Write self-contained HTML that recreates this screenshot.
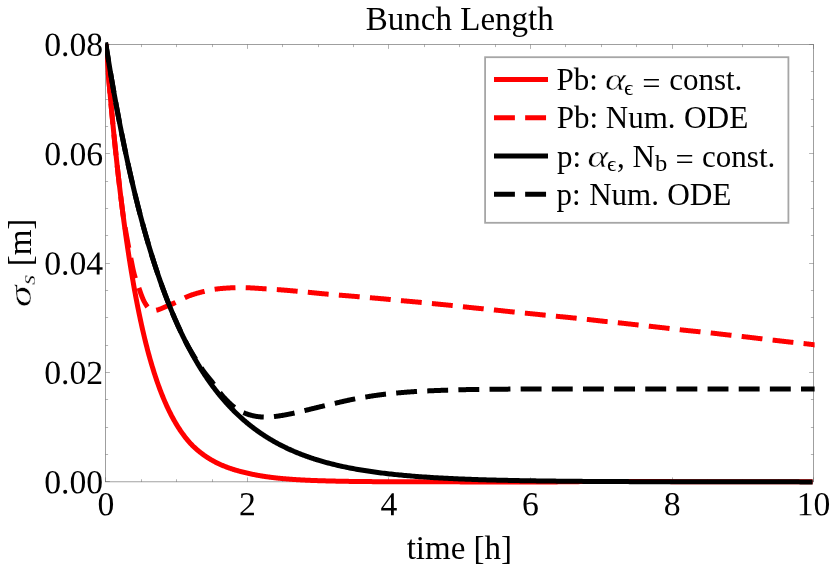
<!DOCTYPE html>
<html><head><meta charset="utf-8"><title>Bunch Length</title>
<style>
html,body{margin:0;padding:0;background:#fff;}
svg{display:block;will-change:transform;}
text{font-family:"Liberation Serif",serif;fill:#000;}
</style></head>
<body>
<svg width="830" height="567" viewBox="0 0 830 567">
<rect x="0" y="0" width="830" height="567" fill="#fff"/>
<defs><clipPath id="c"><rect x="105.2" y="41.8" width="707.40" height="443.10"/></clipPath><clipPath id="d"><rect x="105.2" y="41.8" width="709.40" height="443.10"/></clipPath></defs>
<g fill="none" stroke="#666" stroke-width="0.62">
<rect x="105.50" y="44.50" width="708.00" height="437.35"/>
<path d="M105.50 481.85 v-4.40 M105.50 44.50 v4.40 M141.50 481.85 v-2.60 M141.50 44.50 v2.60 M176.50 481.85 v-2.60 M176.50 44.50 v2.60 M212.50 481.85 v-2.60 M212.50 44.50 v2.60 M247.50 481.85 v-4.40 M247.50 44.50 v4.40 M282.50 481.85 v-2.60 M282.50 44.50 v2.60 M318.50 481.85 v-2.60 M318.50 44.50 v2.60 M353.50 481.85 v-2.60 M353.50 44.50 v2.60 M388.50 481.85 v-4.40 M388.50 44.50 v4.40 M424.50 481.85 v-2.60 M424.50 44.50 v2.60 M459.50 481.85 v-2.60 M459.50 44.50 v2.60 M495.50 481.85 v-2.60 M495.50 44.50 v2.60 M530.50 481.85 v-4.40 M530.50 44.50 v4.40 M565.50 481.85 v-2.60 M565.50 44.50 v2.60 M601.50 481.85 v-2.60 M601.50 44.50 v2.60 M636.50 481.85 v-2.60 M636.50 44.50 v2.60 M672.50 481.85 v-4.40 M672.50 44.50 v4.40 M707.50 481.85 v-2.60 M707.50 44.50 v2.60 M742.50 481.85 v-2.60 M742.50 44.50 v2.60 M778.50 481.85 v-2.60 M778.50 44.50 v2.60 M813.50 481.85 v-4.40 M813.50 44.50 v4.40 M105.50 481.50 h4.40 M813.50 481.50 h-4.40 M105.50 454.50 h2.60 M813.50 454.50 h-2.60 M105.50 427.50 h2.60 M813.50 427.50 h-2.60 M105.50 399.50 h2.60 M813.50 399.50 h-2.60 M105.50 372.50 h4.40 M813.50 372.50 h-4.40 M105.50 345.50 h2.60 M813.50 345.50 h-2.60 M105.50 317.50 h2.60 M813.50 317.50 h-2.60 M105.50 290.50 h2.60 M813.50 290.50 h-2.60 M105.50 263.50 h4.40 M813.50 263.50 h-4.40 M105.50 235.50 h2.60 M813.50 235.50 h-2.60 M105.50 208.50 h2.60 M813.50 208.50 h-2.60 M105.50 181.50 h2.60 M813.50 181.50 h-2.60 M105.50 153.50 h4.40 M813.50 153.50 h-4.40 M105.50 126.50 h2.60 M813.50 126.50 h-2.60 M105.50 99.50 h2.60 M813.50 99.50 h-2.60 M105.50 71.50 h2.60 M813.50 71.50 h-2.60 M105.50 44.50 h4.40 M813.50 44.50 h-4.40" stroke-width="0.5"/>
</g>
<g fill="none" stroke-width="5.0" stroke-linejoin="round">
<path clip-path="url(#c)" stroke="#ff0000" d="M105.84 43.66 L105.90 44.46 L106.43 51.10 L106.96 57.64 L107.50 64.09 L108.03 70.43 L108.56 76.68 L109.09 82.83 L109.62 88.89 L110.16 94.86 L110.69 100.73 L111.22 106.52 L111.75 112.22 L112.29 117.84 L112.82 123.36 L113.35 128.81 L113.88 134.17 L114.41 139.45 L114.95 144.65 L115.48 149.77 L116.01 154.81 L116.54 159.78 L117.07 164.67 L117.61 169.49 L118.14 174.23 L118.67 178.90 L119.20 183.50 L119.73 188.04 L120.27 192.50 L120.80 196.89 L121.33 201.22 L121.86 205.48 L122.40 209.68 L122.93 213.81 L123.46 217.88 L123.99 221.89 L124.52 225.84 L125.06 229.73 L125.59 233.56 L126.12 237.33 L126.65 241.04 L127.18 244.70 L127.72 248.30 L128.25 251.85 L128.78 255.34 L129.31 258.78 L129.84 262.17 L130.38 265.51 L130.91 268.79 L131.44 272.03 L131.97 275.21 L132.51 278.35 L133.04 281.44 L133.57 284.49 L134.10 287.48 L134.63 290.44 L135.17 293.34 L135.70 296.21 L136.23 299.03 L136.76 301.80 L137.29 304.54 L137.83 307.23 L138.36 309.88 L138.89 312.49 L139.42 315.07 L139.95 317.60 L140.49 320.10 L141.02 322.55 L141.55 324.97 L142.08 327.35 L142.62 329.70 L143.15 332.01 L143.68 334.29 L144.21 336.53 L144.74 338.74 L145.28 340.91 L145.81 343.05 L146.34 345.16 L146.87 347.24 L147.40 349.28 L147.94 351.29 L148.47 353.28 L149.00 355.23 L149.53 357.15 L150.06 359.05 L150.60 360.91 L151.13 362.75 L151.66 364.56 L152.19 366.34 L152.73 368.10 L153.26 369.82 L153.79 371.53 L154.32 373.20 L154.85 374.85 L155.39 376.48 L155.92 378.08 L156.45 379.66 L156.98 381.21 L157.51 382.74 L158.05 384.24 L158.58 385.73 L159.11 387.19 L159.64 388.62 L160.17 390.04 L160.71 391.44 L161.24 392.81 L161.77 394.16 L162.30 395.49 L162.84 396.81 L163.37 398.10 L163.90 399.37 L164.43 400.62 L164.96 401.86 L165.50 403.07 L166.03 404.27 L166.56 405.45 L167.09 406.61 L167.62 407.75 L168.16 408.88 L168.69 409.99 L169.22 411.08 L169.75 412.15 L170.28 413.21 L170.82 414.26 L171.35 415.28 L171.88 416.30 L172.41 417.29 L172.95 418.27 L173.48 419.24 L174.01 420.19 L174.54 421.13 L175.07 422.05 L175.61 422.96 L176.14 423.85 L176.67 424.74 L177.20 425.60 L177.73 426.46 L178.27 427.30 L178.80 428.13 L179.33 428.95 L179.86 429.75 L180.39 430.54 L180.93 431.32 L181.46 432.09 L181.99 432.85 L182.52 433.59 L183.06 434.32 L183.59 435.05 L184.12 435.76 L184.65 436.46 L185.18 437.15 L185.72 437.83 L186.25 438.50 L186.78 439.16 L187.31 439.81 L187.84 440.44 L188.38 441.07 L188.91 441.69 L189.44 442.30 L189.97 442.91 L190.50 443.50 L191.04 444.07 L191.57 444.61 L192.10 445.14 L192.63 445.66 L193.17 446.18 L193.70 446.69 L194.23 447.19 L194.76 447.68 L195.29 448.17 L195.83 448.65 L196.36 449.12 L196.89 449.59 L197.42 450.04 L197.95 450.49 L198.49 450.94 L199.02 451.38 L199.55 451.81 L200.08 452.23 L200.61 452.65 L201.15 453.06 L201.68 453.47 L202.21 453.87 L202.74 454.26 L203.28 454.65 L203.81 455.03 L204.34 455.41 L204.87 455.78 L205.40 456.14 L205.94 456.50 L206.47 456.86 L207.00 457.21 L207.53 457.55 L208.06 457.89 L208.60 458.23 L209.13 458.56 L209.66 458.88 L210.19 459.20 L210.72 459.52 L211.26 459.83 L211.79 460.13 L212.32 460.43 L212.85 460.73 L213.39 461.02 L213.92 461.31 L214.45 461.60 L214.98 461.88 L215.51 462.15 L216.05 462.42 L216.58 462.69 L217.11 462.96 L217.64 463.22 L218.17 463.47 L218.71 463.73 L219.24 463.98 L219.77 464.22 L220.30 464.46 L220.83 464.70 L221.37 464.94 L221.90 465.17 L222.43 465.40 L222.96 465.62 L223.50 465.84 L224.03 466.06 L224.56 466.28 L225.09 466.49 L225.62 466.70 L226.16 466.90 L226.69 467.11 L227.22 467.31 L227.75 467.50 L228.28 467.70 L228.82 467.89 L229.35 468.08 L229.88 468.27 L230.41 468.45 L230.94 468.63 L231.48 468.81 L232.01 468.99 L232.54 469.16 L233.07 469.33 L233.61 469.50 L234.14 469.66 L234.67 469.83 L235.20 469.99 L235.73 470.15 L236.27 470.31 L236.80 470.46 L237.33 470.61 L237.86 470.76 L238.39 470.91 L238.93 471.06 L239.46 471.20 L239.99 471.34 L240.52 471.48 L241.05 471.62 L241.59 471.76 L242.12 471.89 L242.65 472.02 L243.18 472.15 L243.72 472.28 L244.25 472.41 L244.78 472.53 L245.31 472.66 L245.84 472.78 L246.38 472.90 L246.91 473.02 L247.44 473.13 L247.97 473.26 L248.50 473.39 L249.04 473.51 L249.57 473.63 L250.10 473.75 L250.63 473.87 L251.16 473.99 L251.70 474.11 L252.23 474.22 L252.76 474.33 L253.29 474.44 L253.83 474.55 L254.36 474.66 L254.89 474.76 L255.42 474.87 L255.95 474.97 L256.49 475.07 L257.02 475.17 L257.55 475.27 L258.08 475.37 L258.61 475.46 L259.15 475.56 L259.68 475.65 L260.21 475.74 L260.74 475.83 L261.27 475.92 L261.81 476.01 L262.34 476.09 L262.87 476.18 L263.40 476.26 L263.94 476.34 L264.47 476.42 L265.00 476.50 L265.53 476.58 L266.06 476.66 L266.60 476.74 L267.13 476.81 L267.66 476.89 L268.19 476.96 L268.72 477.03 L269.26 477.10 L269.79 477.17 L270.32 477.24 L270.85 477.31 L271.38 477.38 L271.92 477.44 L272.45 477.51 L272.98 477.57 L273.51 477.63 L274.05 477.70 L274.58 477.76 L275.11 477.82 L275.64 477.88 L276.17 477.94 L276.71 477.99 L277.24 478.05 L277.77 478.11 L278.30 478.16 L278.83 478.22 L279.37 478.27 L279.90 478.32 L280.43 478.38 L280.96 478.43 L281.49 478.48 L282.03 478.53 L282.56 478.58 L283.09 478.63 L283.62 478.67 L284.16 478.72 L284.69 478.77 L285.22 478.81 L285.75 478.86 L286.28 478.90 L286.82 478.95 L287.35 478.99 L287.88 479.03 L288.41 479.07 L288.94 479.11 L289.48 479.16 L290.01 479.20 L290.54 479.23 L291.07 479.27 L291.60 479.31 L292.14 479.35 L292.67 479.39 L293.20 479.42 L293.73 479.46 L294.27 479.50 L294.80 479.53 L295.33 479.57 L295.86 479.60 L296.39 479.63 L296.93 479.67 L297.46 479.70 L297.99 479.73 L298.52 479.76 L299.05 479.79 L299.59 479.82 L300.12 479.85 L300.65 479.88 L301.18 479.91 L301.71 479.94 L302.25 479.97 L302.78 480.00 L303.31 480.03 L303.84 480.05 L304.38 480.08 L304.91 480.11 L305.44 480.13 L305.97 480.16 L306.50 480.19 L307.04 480.21 L307.57 480.23 L308.10 480.26 L308.63 480.28 L309.16 480.31 L309.70 480.33 L310.23 480.35 L310.76 480.38 L311.29 480.40 L311.82 480.42 L312.36 480.44 L312.89 480.46 L313.42 480.48 L313.95 480.50 L314.49 480.52 L315.02 480.54 L315.55 480.56 L316.08 480.58 L316.61 480.60 L317.15 480.62 L317.68 480.64 L318.21 480.66 L319.87 480.71 L321.52 480.77 L323.18 480.82 L324.84 480.87 L326.49 480.91 L328.15 480.96 L329.81 481.00 L331.46 481.04 L333.12 481.08 L334.78 481.11 L336.44 481.15 L338.09 481.18 L339.75 481.22 L341.41 481.25 L343.06 481.28 L344.72 481.30 L346.38 481.33 L348.03 481.36 L349.69 481.38 L351.35 481.40 L353.00 481.43 L354.66 481.45 L356.32 481.47 L357.97 481.49 L359.63 481.50 L361.29 481.52 L362.94 481.54 L364.60 481.56 L366.26 481.57 L367.91 481.59 L369.57 481.60 L371.23 481.61 L372.89 481.63 L374.54 481.64 L376.20 481.65 L377.86 481.66 L379.51 481.67 L381.17 481.68 L382.83 481.69 L384.48 481.70 L386.14 481.71 L387.80 481.72 L389.45 481.73 L391.11 481.73 L392.77 481.74 L394.42 481.75 L396.08 481.76 L397.74 481.76 L399.39 481.77 L401.05 481.77 L402.71 481.78 L404.36 481.79 L406.02 481.79 L407.68 481.80 L409.34 481.80 L410.99 481.80 L412.65 481.81 L414.31 481.81 L415.96 481.82 L417.62 481.82 L419.28 481.82 L420.93 481.83 L422.59 481.83 L424.25 481.83 L425.90 481.84 L427.56 481.84 L429.22 481.84 L430.87 481.84 L432.53 481.85 L434.19 481.85 L435.84 481.85 L437.50 481.85 L439.16 481.86 L440.81 481.86 L442.47 481.86 L444.13 481.86 L445.79 481.86 L447.44 481.87 L449.10 481.87 L450.76 481.87 L452.41 481.87 L454.07 481.87 L455.73 481.87 L457.38 481.87 L459.04 481.87 L460.70 481.88 L462.35 481.88 L464.01 481.88 L465.67 481.88 L467.32 481.88 L468.98 481.88 L470.64 481.88 L472.29 481.88 L473.95 481.88 L475.61 481.88 L477.26 481.88 L478.92 481.89 L480.58 481.89 L482.24 481.89 L483.89 481.89 L485.55 481.89 L487.21 481.89 L488.86 481.89 L490.52 481.89 L492.18 481.89 L493.83 481.89 L495.49 481.89 L497.15 481.89 L498.80 481.89 L500.46 481.89 L502.12 481.89 L503.77 481.89 L505.43 481.89 L507.09 481.89 L508.74 481.89 L510.40 481.89 L512.06 481.89 L513.72 481.89 L515.37 481.89 L517.03 481.89 L518.69 481.90 L520.34 481.90 L522.00 481.90 L523.66 481.90 L525.31 481.90 L526.97 481.90 L528.63 481.90 L530.28 481.90 L531.94 481.90 L533.60 481.90 L535.25 481.90 L536.91 481.90 L538.57 481.90 L540.22 481.90 L541.88 481.90 L543.54 481.90 L545.19 481.90 L546.85 481.90 L548.51 481.90 L550.17 481.90 L551.82 481.90 L553.48 481.90 L555.14 481.89 L556.79 481.88 L558.45 481.87 L560.11 481.86 L561.76 481.84 L563.42 481.83 L565.08 481.81 L566.73 481.79 L568.39 481.77 L570.05 481.75 L571.70 481.73 L573.36 481.71 L575.02 481.68 L576.67 481.66 L578.33 481.64 L579.99 481.62 L581.64 481.60 L583.30 481.58 L584.96 481.56 L586.62 481.55 L588.27 481.53 L589.93 481.51 L591.59 481.50 L593.24 481.49 L594.90 481.47 L596.56 481.46 L598.21 481.45 L599.87 481.45 L601.53 481.44 L603.18 481.43 L604.84 481.43 L606.50 481.43 L608.15 481.43 L609.81 481.43 L611.47 481.43 L613.12 481.44 L614.78 481.44 L616.44 481.45 L618.09 481.46 L619.75 481.47 L621.41 481.47 L623.07 481.48 L624.72 481.49 L626.38 481.49 L628.04 481.50 L629.69 481.51 L631.35 481.51 L633.01 481.52 L634.66 481.53 L636.32 481.53 L637.98 481.54 L639.63 481.54 L641.29 481.55 L642.95 481.55 L644.60 481.56 L646.26 481.56 L647.92 481.57 L649.57 481.57 L651.23 481.58 L652.89 481.58 L654.55 481.59 L656.20 481.59 L657.86 481.60 L659.52 481.60 L661.17 481.60 L662.83 481.61 L664.49 481.61 L666.14 481.62 L667.80 481.62 L669.46 481.62 L671.11 481.63 L672.77 481.63 L674.43 481.63 L676.08 481.64 L677.74 481.64 L679.40 481.64 L681.05 481.65 L682.71 481.65 L684.37 481.65 L686.02 481.66 L687.68 481.66 L689.34 481.66 L691.00 481.66 L692.65 481.67 L694.31 481.67 L695.97 481.67 L697.62 481.68 L699.28 481.68 L700.94 481.68 L702.59 481.68 L704.25 481.68 L705.91 481.69 L707.56 481.69 L709.22 481.69 L710.88 481.69 L712.53 481.70 L714.19 481.70 L715.85 481.70 L717.50 481.70 L719.16 481.70 L720.82 481.70 L722.47 481.71 L724.13 481.71 L725.79 481.71 L727.45 481.71 L729.10 481.71 L730.76 481.71 L732.42 481.72 L734.07 481.72 L735.73 481.72 L737.39 481.72 L739.04 481.72 L740.70 481.72 L742.36 481.72 L744.01 481.73 L745.67 481.73 L747.33 481.73 L748.98 481.73 L750.64 481.73 L752.30 481.73 L753.95 481.73 L755.61 481.73 L757.27 481.73 L758.92 481.74 L760.58 481.74 L762.24 481.74 L763.90 481.74 L765.55 481.74 L767.21 481.74 L768.87 481.74 L770.52 481.74 L772.18 481.74 L773.84 481.74 L775.49 481.75 L777.15 481.75 L778.81 481.75 L780.46 481.75 L782.12 481.75 L783.78 481.75 L785.43 481.75 L787.09 481.75 L788.75 481.75 L790.40 481.75 L792.06 481.75 L793.72 481.75 L795.37 481.75 L797.03 481.75 L798.69 481.75 L800.35 481.76 L802.00 481.76 L803.66 481.76 L805.32 481.76 L806.97 481.76 L808.63 481.76 L810.29 481.76 L811.94 481.76 L813.60 481.76"/>
<path clip-path="url(#d)" stroke="#ff0000" stroke-dasharray="20.9 10.25" stroke-dashoffset="3.00" d="M105.90 44.46 L105.95 45.09 L106.00 45.71 L106.05 46.34 L106.10 46.96 L106.15 47.59 L106.20 48.22 L106.25 48.84 L106.30 49.47 L106.35 50.09 L106.40 50.72 L106.45 51.35 L106.50 51.97 L106.55 52.60 L106.60 53.22 L106.66 53.85 L106.71 54.48 L106.76 55.10 L106.81 55.73 L106.86 56.35 L106.91 56.98 L106.96 57.60 L107.01 58.23 L107.06 58.86 L107.12 59.48 L107.17 60.11 L107.22 60.73 L107.27 61.36 L107.32 61.99 L107.37 62.61 L107.43 63.24 L107.48 63.86 L107.53 64.49 L107.58 65.12 L107.64 65.74 L107.69 66.37 L107.74 66.99 L107.79 67.62 L107.85 68.24 L107.90 68.87 L107.95 69.50 L108.00 70.12 L108.06 70.75 L108.11 71.37 L108.16 72.00 L108.22 72.62 L108.27 73.25 L108.32 73.88 L108.37 74.50 L108.43 75.13 L108.48 75.75 L108.54 76.38 L108.59 77.00 L108.64 77.63 L108.70 78.26 L108.75 78.88 L108.80 79.51 L108.86 80.13 L108.91 80.76 L108.97 81.38 L109.02 82.01 L109.08 82.64 L109.13 83.26 L109.18 83.89 L109.24 84.51 L109.29 85.14 L109.35 85.76 L109.40 86.39 L109.46 87.02 L109.51 87.64 L109.57 88.27 L109.62 88.89 L109.68 89.52 L109.74 90.14 L109.79 90.77 L109.85 91.39 L109.90 92.02 L109.96 92.64 L110.01 93.27 L110.07 93.90 L110.13 94.52 L110.18 95.15 L110.24 95.77 L110.29 96.40 L110.35 97.02 L110.41 97.65 L110.46 98.27 L110.52 98.90 L110.58 99.52 L110.64 100.15 L110.69 100.78 L110.75 101.40 L110.81 102.03 L110.86 102.65 L110.92 103.28 L110.98 103.90 L111.04 104.53 L111.09 105.15 L111.15 105.78 L111.21 106.40 L111.27 107.03 L111.33 107.65 L111.38 108.28 L111.44 108.91 L111.50 109.53 L111.56 110.16 L111.62 110.78 L111.68 111.41 L111.73 112.03 L111.79 112.66 L111.85 113.28 L111.91 113.91 L111.97 114.53 L112.03 115.16 L112.09 115.78 L112.15 116.41 L112.21 117.03 L112.27 117.66 L112.33 118.28 L112.39 118.91 L112.45 119.53 L112.51 120.16 L112.57 120.78 L112.63 121.41 L112.69 122.03 L112.75 122.66 L112.81 123.28 L112.87 123.91 L112.93 124.53 L112.99 125.16 L113.05 125.78 L113.11 126.41 L113.18 127.03 L113.24 127.66 L113.30 128.28 L113.36 128.91 L113.42 129.53 L113.48 130.16 L113.55 130.78 L113.61 131.41 L113.67 132.03 L113.73 132.66 L113.79 133.28 L113.86 133.91 L113.92 134.53 L113.98 135.16 L114.04 135.78 L114.11 136.41 L114.17 137.03 L114.23 137.66 L114.30 138.28 L114.36 138.91 L114.42 139.53 L114.49 140.16 L114.55 140.78 L114.61 141.41 L114.68 142.03 L114.74 142.66 L114.81 143.28 L114.87 143.91 L114.93 144.53 L115.00 145.15 L115.06 145.78 L115.13 146.40 L115.19 147.03 L115.26 147.65 L115.32 148.28 L115.39 148.90 L115.45 149.53 L115.52 150.15 L115.58 150.78 L115.65 151.40 L115.71 152.03 L115.78 152.65 L115.85 153.27 L115.91 153.90 L115.98 154.52 L116.04 155.15 L116.11 155.77 L116.18 156.40 L116.24 157.02 L116.31 157.65 L116.38 158.27 L116.44 158.89 L116.51 159.52 L116.58 160.14 L116.65 160.77 L116.71 161.39 L116.78 162.02 L116.85 162.64 L116.92 163.27 L116.98 163.89 L117.05 164.51 L117.12 165.14 L117.19 165.76 L117.26 166.39 L117.33 167.01 L117.40 167.64 L117.47 168.26 L117.53 168.88 L117.60 169.51 L117.67 170.13 L117.74 170.76 L117.81 171.38 L117.88 172.00 L117.95 172.63 L118.02 173.25 L118.09 173.88 L118.17 174.50 L118.24 175.12 L118.31 175.75 L118.38 176.37 L118.45 177.00 L118.52 177.62 L118.59 178.24 L118.67 178.87 L118.74 179.49 L118.81 180.12 L118.88 180.74 L118.96 181.36 L119.03 181.99 L119.10 182.61 L119.18 183.23 L119.25 183.86 L119.32 184.48 L119.40 185.10 L119.47 185.73 L119.54 186.35 L119.62 186.98 L119.69 187.60 L119.77 188.22 L119.84 188.85 L119.92 189.47 L119.99 190.09 L120.07 190.72 L120.14 191.34 L120.22 191.96 L120.29 192.59 L120.37 193.21 L120.44 193.83 L120.52 194.46 L120.59 195.08 L120.67 195.70 L120.74 196.33 L120.82 196.95 L120.90 197.57 L120.97 198.20 L121.05 198.82 L121.12 199.44 L121.20 200.07 L121.28 200.69 L121.35 201.31 L121.43 201.94 L121.51 202.56 L121.58 203.18 L121.66 203.81 L121.73 204.43 L121.81 205.06 L121.89 205.68 L121.96 206.30 L122.04 206.93 L122.12 207.55 L122.19 208.17 L122.27 208.79 L122.35 209.42 L122.43 210.04 L122.51 210.66 L122.59 211.29 L122.67 211.91 L122.75 212.53 L122.84 213.15 L122.92 213.78 L123.01 214.40 L123.10 215.02 L123.19 215.64 L123.28 216.26 L123.37 216.88 L123.46 217.51 L123.55 218.13 L123.65 218.75 L123.75 219.37 L123.84 219.99 L123.94 220.61 L124.04 221.23 L124.14 221.85 L124.24 222.47 L124.34 223.09 L124.45 223.71 L124.55 224.33 L124.65 224.95 L124.76 225.57 L124.86 226.18 L124.97 226.80 L125.07 227.42 L125.18 228.04 L125.29 228.66 L125.40 229.28 L125.50 229.90 L125.61 230.52 L125.72 231.14 L125.83 231.75 L125.94 232.37 L126.05 232.99 L126.16 233.61 L126.26 234.23 L126.37 234.85 L126.48 235.47 L126.59 236.08 L126.71 236.70 L126.82 237.32 L126.93 237.94 L127.04 238.56 L127.15 239.18 L127.26 239.79 L127.38 240.41 L127.49 241.03 L127.60 241.65 L127.72 242.26 L127.83 242.88 L127.95 243.50 L128.06 244.12 L128.18 244.73 L128.29 245.35 L128.41 245.97 L128.53 246.58 L128.65 247.20 L128.77 247.81 L128.89 248.43 L129.01 249.05 L129.13 249.66 L129.25 250.28 L129.37 250.89 L129.49 251.51 L129.61 252.13 L129.73 252.74 L129.85 253.36 L129.98 253.97 L130.10 254.59 L130.22 255.20 L130.34 255.82 L130.47 256.44 L130.59 257.05 L130.71 257.67 L130.83 258.29 L130.96 258.90 L131.08 259.52 L131.20 260.14 L131.32 260.75 L131.44 261.37 L131.57 261.99 L131.69 262.60 L131.81 263.22 L131.93 263.84 L132.05 264.46 L132.18 265.07 L132.30 265.69 L132.42 266.31 L132.55 266.92 L132.68 267.54 L132.81 268.16 L132.94 268.77 L133.07 269.39 L133.21 270.00 L133.34 270.61 L133.48 271.23 L133.63 271.84 L133.78 272.45 L133.93 273.06 L134.08 273.67 L134.24 274.27 L134.40 274.88 L134.57 275.48 L134.74 276.08 L134.91 276.69 L135.09 277.29 L135.28 277.88 L135.47 278.48 L135.67 279.07 L135.87 279.67 L136.07 280.26 L136.28 280.85 L136.49 281.44 L136.70 282.03 L136.91 282.62 L137.13 283.21 L137.35 283.80 L137.56 284.39 L137.78 284.98 L138.00 285.57 L138.22 286.16 L138.44 286.75 L138.65 287.34 L138.87 287.94 L139.08 288.53 L139.29 289.13 L139.50 289.72 L139.71 290.32 L139.92 290.92 L140.13 291.52 L140.34 292.11 L140.54 292.71 L140.75 293.30 L140.97 293.90 L141.18 294.49 L141.40 295.08 L141.62 295.67 L141.84 296.25 L142.07 296.84 L142.30 297.41 L142.54 297.99 L142.78 298.56 L143.03 299.13 L143.29 299.69 L143.55 300.25 L143.82 300.80 L144.10 301.36 L144.39 301.90 L144.68 302.45 L144.98 302.99 L145.30 303.53 L145.62 304.07 L145.96 304.62 L146.30 305.16 L146.66 305.70 L147.03 306.24 L147.41 306.79 L147.81 307.32 L148.22 307.84 L148.65 308.34 L149.09 308.81 L149.56 309.25 L150.05 309.64 L150.56 309.97 L151.09 310.24 L151.66 310.45 L152.25 310.58 L152.85 310.65 L153.48 310.67 L154.12 310.63 L154.76 310.55 L155.41 310.44 L156.06 310.31 L156.69 310.15 L157.32 309.98 L157.94 309.80 L158.55 309.61 L159.16 309.41 L159.75 309.20 L160.34 308.98 L160.93 308.76 L161.51 308.53 L162.08 308.29 L162.66 308.05 L163.23 307.81 L163.80 307.56 L164.37 307.31 L164.93 307.06 L165.50 306.82 L166.07 306.57 L166.65 306.32 L167.22 306.08 L167.80 305.84 L168.38 305.59 L168.95 305.35 L169.53 305.11 L170.11 304.87 L170.69 304.62 L171.27 304.38 L171.85 304.13 L172.43 303.88 L173.01 303.63 L173.58 303.38 L174.16 303.12 L174.73 302.85 L175.30 302.59 L175.87 302.31 L176.43 302.04 L176.99 301.75 L177.55 301.47 L178.11 301.18 L178.66 300.88 L179.22 300.59 L179.77 300.29 L180.33 299.99 L180.88 299.70 L181.44 299.40 L181.99 299.11 L182.55 298.82 L183.11 298.53 L183.67 298.25 L184.23 297.98 L184.80 297.71 L185.37 297.44 L185.94 297.19 L186.51 296.94 L187.09 296.69 L187.67 296.45 L188.26 296.22 L188.84 295.99 L189.43 295.77 L190.02 295.55 L190.61 295.34 L191.20 295.13 L191.80 294.92 L192.39 294.72 L192.99 294.52 L193.59 294.33 L194.19 294.14 L194.79 293.95 L195.39 293.77 L195.99 293.59 L196.60 293.41 L197.20 293.23 L197.80 293.06 L198.41 292.89 L199.01 292.72 L199.62 292.56 L200.23 292.40 L200.83 292.24 L201.44 292.08 L202.05 291.93 L202.66 291.77 L203.27 291.62 L203.88 291.47 L204.49 291.33 L205.10 291.18 L205.71 291.04 L206.32 290.90 L206.94 290.76 L207.55 290.62 L208.16 290.49 L208.78 290.36 L209.39 290.23 L210.01 290.11 L210.63 289.98 L211.24 289.87 L211.86 289.75 L212.48 289.64 L213.10 289.53 L213.72 289.43 L214.34 289.33 L214.96 289.24 L215.58 289.15 L216.20 289.06 L216.82 288.98 L217.45 288.90 L218.07 288.82 L218.69 288.75 L219.32 288.69 L219.94 288.62 L220.57 288.56 L221.19 288.50 L221.82 288.45 L222.45 288.39 L223.07 288.34 L223.70 288.29 L224.33 288.25 L224.95 288.20 L225.58 288.16 L226.21 288.12 L226.83 288.08 L227.46 288.04 L228.09 288.00 L228.71 287.97 L229.34 287.93 L229.97 287.90 L230.60 287.87 L231.22 287.84 L231.85 287.81 L232.48 287.79 L233.11 287.77 L233.73 287.74 L234.36 287.72 L234.99 287.71 L235.62 287.69 L236.24 287.67 L236.87 287.66 L237.50 287.65 L238.13 287.64 L238.76 287.63 L239.38 287.63 L240.01 287.63 L240.64 287.63 L241.27 287.63 L241.90 287.63 L242.52 287.63 L243.15 287.64 L243.78 287.65 L244.41 287.66 L245.04 287.67 L245.66 287.69 L246.29 287.71 L246.92 287.73 L247.55 287.75 L248.17 287.78 L248.80 287.80 L249.43 287.83 L250.06 287.86 L250.68 287.89 L251.31 287.92 L251.94 287.96 L252.57 287.99 L253.19 288.03 L253.82 288.06 L254.45 288.10 L255.07 288.14 L255.70 288.18 L256.33 288.22 L256.95 288.26 L257.58 288.30 L258.21 288.34 L258.83 288.39 L259.46 288.43 L260.09 288.47 L260.71 288.51 L261.34 288.55 L261.97 288.60 L262.59 288.64 L263.22 288.68 L263.85 288.72 L264.47 288.77 L265.10 288.81 L265.73 288.85 L266.35 288.89 L266.98 288.93 L267.61 288.97 L268.23 289.01 L268.86 289.05 L269.49 289.09 L270.11 289.13 L270.74 289.17 L271.37 289.21 L271.99 289.25 L272.62 289.29 L273.25 289.33 L273.87 289.37 L274.50 289.41 L275.13 289.45 L275.75 289.49 L276.38 289.54 L277.01 289.58 L277.63 289.62 L278.26 289.67 L278.89 289.71 L279.51 289.76 L280.14 289.80 L280.76 289.85 L281.39 289.90 L282.02 289.95 L282.64 290.00 L283.27 290.05 L283.89 290.10 L284.52 290.15 L285.15 290.20 L285.77 290.25 L286.40 290.30 L287.02 290.35 L287.65 290.40 L288.28 290.46 L288.90 290.51 L289.53 290.57 L290.15 290.62 L290.78 290.67 L291.40 290.73 L292.03 290.78 L292.66 290.84 L293.28 290.89 L293.91 290.95 L294.53 291.01 L295.16 291.06 L295.78 291.12 L296.41 291.17 L297.03 291.23 L297.66 291.29 L298.28 291.34 L298.91 291.40 L299.54 291.46 L300.16 291.51 L300.79 291.57 L301.41 291.63 L302.04 291.69 L302.66 291.74 L303.29 291.80 L303.91 291.86 L304.54 291.92 L305.16 291.98 L305.79 292.04 L306.41 292.10 L307.04 292.16 L307.66 292.22 L308.29 292.28 L308.91 292.34 L309.54 292.40 L310.16 292.46 L310.79 292.52 L311.41 292.59 L312.04 292.65 L312.66 292.71 L313.29 292.77 L313.91 292.84 L314.54 292.90 L315.16 292.96 L315.79 293.02 L316.41 293.09 L317.04 293.15 L317.66 293.21 L318.29 293.28 L318.91 293.34 L319.54 293.40 L320.16 293.46 L320.79 293.52 L321.41 293.58 L322.04 293.65 L322.66 293.71 L323.29 293.77 L323.91 293.83 L324.54 293.88 L325.16 293.94 L325.79 294.00 L326.41 294.06 L327.04 294.11 L327.66 294.17 L328.29 294.23 L328.92 294.28 L329.54 294.33 L330.17 294.39 L330.79 294.44 L331.42 294.49 L332.04 294.54 L332.67 294.59 L333.30 294.64 L333.92 294.70 L334.55 294.75 L335.17 294.80 L335.80 294.85 L336.43 294.90 L337.05 294.95 L337.68 294.99 L338.30 295.04 L338.93 295.09 L339.56 295.14 L340.18 295.19 L340.81 295.25 L341.43 295.30 L342.06 295.35 L342.69 295.40 L343.31 295.45 L343.94 295.50 L344.56 295.55 L345.19 295.60 L345.82 295.65 L346.44 295.71 L347.07 295.76 L347.69 295.81 L348.32 295.86 L348.95 295.91 L349.57 295.96 L350.20 296.02 L350.82 296.07 L351.45 296.12 L352.07 296.17 L352.70 296.23 L353.33 296.28 L353.95 296.33 L354.58 296.38 L355.20 296.44 L355.83 296.49 L356.45 296.54 L357.08 296.60 L357.71 296.65 L358.33 296.70 L358.96 296.75 L359.58 296.81 L360.21 296.86 L360.84 296.91 L361.46 296.97 L362.09 297.02 L362.71 297.07 L363.34 297.12 L363.96 297.18 L364.59 297.23 L365.22 297.28 L365.84 297.34 L366.47 297.39 L367.09 297.44 L367.72 297.50 L368.34 297.55 L368.97 297.60 L369.60 297.66 L370.22 297.71 L370.85 297.76 L371.47 297.82 L372.10 297.87 L372.72 297.92 L373.35 297.98 L373.98 298.03 L374.60 298.09 L375.23 298.14 L375.85 298.20 L376.48 298.25 L377.10 298.31 L377.73 298.36 L378.35 298.42 L378.98 298.47 L379.61 298.53 L380.23 298.58 L380.86 298.64 L381.48 298.69 L382.11 298.75 L382.73 298.81 L383.36 298.86 L383.98 298.92 L384.61 298.98 L385.23 299.04 L385.86 299.10 L386.49 299.15 L387.11 299.21 L387.74 299.27 L388.36 299.33 L388.99 299.39 L389.61 299.45 L390.24 299.51 L390.86 299.58 L391.49 299.64 L392.11 299.70 L392.74 299.76 L393.36 299.83 L393.99 299.89 L394.61 299.95 L395.23 300.02 L395.86 300.08 L396.48 300.14 L397.11 300.20 L397.73 300.27 L398.36 300.33 L398.98 300.39 L399.61 300.45 L400.23 300.52 L400.86 300.58 L401.48 300.64 L402.11 300.70 L402.73 300.76 L403.36 300.81 L403.98 300.87 L404.61 300.93 L405.24 300.99 L405.86 301.04 L406.49 301.10 L407.11 301.16 L407.74 301.21 L408.36 301.27 L408.99 301.33 L409.61 301.38 L410.24 301.44 L410.86 301.49 L411.49 301.55 L412.12 301.60 L412.74 301.66 L413.37 301.71 L413.99 301.77 L414.62 301.83 L415.24 301.88 L415.87 301.94 L416.49 301.99 L417.12 302.05 L417.75 302.11 L418.37 302.17 L419.00 302.22 L419.62 302.28 L420.25 302.34 L420.87 302.40 L421.50 302.46 L422.12 302.52 L422.75 302.58 L423.37 302.64 L424.00 302.71 L424.62 302.77 L425.25 302.83 L425.87 302.90 L426.50 302.96 L427.12 303.02 L427.75 303.09 L428.37 303.15 L428.99 303.22 L429.62 303.28 L430.24 303.34 L430.87 303.41 L431.49 303.47 L432.12 303.53 L432.74 303.59 L433.37 303.66 L433.99 303.72 L434.62 303.78 L435.24 303.84 L435.87 303.90 L436.49 303.96 L437.12 304.02 L437.74 304.09 L438.37 304.15 L438.99 304.21 L439.62 304.27 L440.24 304.33 L440.87 304.39 L441.49 304.45 L442.12 304.51 L442.74 304.57 L443.37 304.63 L443.99 304.69 L444.62 304.75 L445.24 304.82 L445.87 304.88 L446.49 304.94 L447.12 305.00 L447.74 305.07 L448.37 305.13 L448.99 305.19 L449.62 305.26 L450.24 305.32 L450.87 305.39 L451.49 305.45 L452.12 305.52 L452.74 305.58 L453.37 305.65 L453.99 305.72 L454.61 305.79 L455.24 305.85 L455.86 305.92 L456.49 305.99 L457.11 306.06 L457.73 306.13 L458.36 306.20 L458.98 306.27 L459.61 306.34 L460.23 306.41 L460.86 306.48 L461.48 306.55 L462.10 306.62 L462.73 306.69 L463.35 306.76 L463.98 306.83 L464.60 306.90 L465.22 306.97 L465.85 307.03 L466.47 307.10 L467.10 307.17 L467.72 307.24 L468.35 307.30 L468.97 307.37 L469.60 307.44 L470.22 307.50 L470.84 307.57 L471.47 307.63 L472.09 307.70 L472.72 307.77 L473.34 307.83 L473.97 307.90 L474.59 307.96 L475.22 308.02 L475.84 308.09 L476.47 308.15 L477.09 308.22 L477.72 308.28 L478.34 308.34 L478.97 308.41 L479.59 308.47 L480.21 308.53 L480.84 308.59 L481.46 308.66 L482.09 308.72 L482.71 308.78 L483.34 308.84 L483.96 308.91 L484.59 308.97 L485.21 309.03 L485.84 309.09 L486.46 309.15 L487.09 309.22 L487.71 309.28 L488.34 309.34 L488.96 309.40 L489.59 309.46 L490.21 309.53 L490.84 309.59 L491.46 309.65 L492.09 309.71 L492.71 309.78 L493.34 309.84 L493.96 309.91 L494.59 309.97 L495.21 310.04 L495.84 310.10 L496.46 310.17 L497.08 310.23 L497.71 310.30 L498.33 310.37 L498.96 310.43 L499.58 310.50 L500.21 310.57 L500.83 310.64 L501.46 310.70 L502.08 310.77 L502.70 310.84 L503.33 310.91 L503.95 310.97 L504.58 311.04 L505.20 311.11 L505.83 311.18 L506.45 311.25 L507.07 311.31 L507.70 311.38 L508.32 311.45 L508.95 311.51 L509.57 311.58 L510.20 311.65 L510.82 311.71 L511.45 311.78 L512.07 311.84 L512.70 311.91 L513.32 311.97 L513.94 312.03 L514.57 312.10 L515.19 312.16 L515.82 312.22 L516.44 312.28 L517.07 312.34 L517.69 312.41 L518.32 312.47 L518.94 312.53 L519.57 312.59 L520.19 312.65 L520.82 312.71 L521.45 312.77 L522.07 312.83 L522.70 312.89 L523.32 312.95 L523.95 313.01 L524.57 313.07 L525.20 313.13 L525.82 313.19 L526.45 313.25 L527.07 313.31 L527.70 313.38 L528.32 313.44 L528.95 313.50 L529.57 313.56 L530.20 313.63 L530.82 313.69 L531.44 313.75 L532.07 313.81 L532.69 313.88 L533.32 313.94 L533.94 314.01 L534.57 314.07 L535.19 314.13 L535.82 314.20 L536.44 314.26 L537.07 314.32 L537.69 314.39 L538.32 314.45 L538.94 314.52 L539.57 314.58 L540.19 314.64 L540.82 314.71 L541.44 314.77 L542.07 314.83 L542.69 314.90 L543.32 314.96 L543.94 315.02 L544.56 315.09 L545.19 315.15 L545.81 315.21 L546.44 315.27 L547.06 315.34 L547.69 315.40 L548.31 315.46 L548.94 315.52 L549.56 315.58 L550.19 315.64 L550.81 315.70 L551.44 315.77 L552.06 315.83 L552.69 315.89 L553.31 315.95 L553.94 316.01 L554.56 316.07 L555.19 316.13 L555.81 316.19 L556.44 316.25 L557.06 316.31 L557.69 316.37 L558.31 316.43 L558.94 316.50 L559.56 316.56 L560.19 316.62 L560.81 316.68 L561.44 316.74 L562.06 316.80 L562.69 316.86 L563.31 316.92 L563.94 316.98 L564.56 317.05 L565.19 317.11 L565.81 317.17 L566.44 317.23 L567.06 317.29 L567.69 317.35 L568.31 317.42 L568.94 317.48 L569.56 317.54 L570.19 317.60 L570.81 317.67 L571.44 317.73 L572.06 317.79 L572.69 317.86 L573.31 317.92 L573.94 317.98 L574.56 318.05 L575.19 318.11 L575.81 318.18 L576.44 318.24 L577.06 318.31 L577.69 318.37 L578.31 318.44 L578.94 318.50 L579.56 318.57 L580.18 318.63 L580.81 318.70 L581.43 318.77 L582.06 318.83 L582.68 318.90 L583.31 318.97 L583.93 319.04 L584.55 319.11 L585.18 319.18 L585.80 319.24 L586.43 319.31 L587.05 319.38 L587.68 319.45 L588.30 319.52 L588.92 319.59 L589.55 319.67 L590.17 319.74 L590.80 319.81 L591.42 319.88 L592.04 319.95 L592.67 320.02 L593.29 320.10 L593.91 320.17 L594.54 320.24 L595.16 320.31 L595.79 320.39 L596.41 320.46 L597.03 320.53 L597.66 320.60 L598.28 320.67 L598.91 320.75 L599.53 320.82 L600.15 320.89 L600.78 320.96 L601.40 321.03 L602.03 321.10 L602.65 321.17 L603.27 321.24 L603.90 321.31 L604.52 321.37 L605.15 321.44 L605.77 321.51 L606.40 321.57 L607.02 321.64 L607.64 321.70 L608.27 321.77 L608.89 321.83 L609.52 321.90 L610.14 321.96 L610.77 322.02 L611.39 322.08 L612.02 322.14 L612.64 322.21 L613.27 322.27 L613.89 322.33 L614.52 322.39 L615.14 322.45 L615.77 322.52 L616.39 322.58 L617.02 322.64 L617.64 322.70 L618.27 322.77 L618.89 322.83 L619.52 322.90 L620.14 322.96 L620.77 323.03 L621.39 323.10 L622.01 323.17 L622.64 323.23 L623.26 323.30 L623.89 323.37 L624.51 323.44 L625.14 323.51 L625.76 323.58 L626.38 323.65 L627.01 323.72 L627.63 323.79 L628.26 323.86 L628.88 323.93 L629.50 324.00 L630.13 324.07 L630.75 324.14 L631.38 324.21 L632.00 324.28 L632.62 324.36 L633.25 324.43 L633.87 324.50 L634.50 324.57 L635.12 324.64 L635.74 324.71 L636.37 324.78 L636.99 324.85 L637.62 324.92 L638.24 324.99 L638.86 325.06 L639.49 325.13 L640.11 325.20 L640.74 325.27 L641.36 325.34 L641.98 325.41 L642.61 325.48 L643.23 325.55 L643.86 325.62 L644.48 325.68 L645.11 325.75 L645.73 325.82 L646.35 325.89 L646.98 325.96 L647.60 326.02 L648.23 326.09 L648.85 326.16 L649.48 326.23 L650.10 326.30 L650.72 326.36 L651.35 326.43 L651.97 326.50 L652.60 326.57 L653.22 326.64 L653.85 326.71 L654.47 326.77 L655.09 326.84 L655.72 326.91 L656.34 326.98 L656.97 327.05 L657.59 327.12 L658.22 327.19 L658.84 327.26 L659.46 327.33 L660.09 327.40 L660.71 327.47 L661.34 327.54 L661.96 327.61 L662.58 327.68 L663.21 327.75 L663.83 327.82 L664.46 327.89 L665.08 327.97 L665.70 328.04 L666.33 328.11 L666.95 328.19 L667.57 328.26 L668.20 328.33 L668.82 328.41 L669.45 328.48 L670.07 328.56 L670.69 328.63 L671.32 328.71 L671.94 328.78 L672.56 328.86 L673.19 328.93 L673.81 329.01 L674.43 329.09 L675.06 329.16 L675.68 329.24 L676.30 329.31 L676.93 329.39 L677.55 329.46 L678.17 329.53 L678.80 329.61 L679.42 329.68 L680.05 329.75 L680.67 329.82 L681.29 329.89 L681.92 329.96 L682.54 330.03 L683.17 330.10 L683.79 330.16 L684.41 330.23 L685.04 330.30 L685.66 330.36 L686.29 330.43 L686.91 330.49 L687.54 330.56 L688.16 330.62 L688.79 330.68 L689.41 330.75 L690.04 330.81 L690.66 330.87 L691.29 330.93 L691.91 331.00 L692.54 331.06 L693.16 331.12 L693.79 331.18 L694.41 331.24 L695.04 331.31 L695.66 331.37 L696.29 331.43 L696.91 331.49 L697.54 331.55 L698.16 331.62 L698.79 331.68 L699.41 331.74 L700.04 331.80 L700.66 331.87 L701.29 331.93 L701.91 331.99 L702.54 332.06 L703.16 332.12 L703.78 332.19 L704.41 332.25 L705.03 332.32 L705.66 332.39 L706.28 332.45 L706.91 332.52 L707.53 332.59 L708.16 332.65 L708.78 332.72 L709.40 332.79 L710.03 332.86 L710.65 332.93 L711.28 333.00 L711.90 333.07 L712.52 333.14 L713.15 333.21 L713.77 333.28 L714.40 333.35 L715.02 333.42 L715.64 333.50 L716.27 333.57 L716.89 333.64 L717.52 333.71 L718.14 333.78 L718.76 333.86 L719.39 333.93 L720.01 334.00 L720.63 334.08 L721.26 334.15 L721.88 334.22 L722.51 334.29 L723.13 334.37 L723.75 334.44 L724.38 334.51 L725.00 334.58 L725.62 334.66 L726.25 334.73 L726.87 334.80 L727.50 334.87 L728.12 334.94 L728.74 335.01 L729.37 335.08 L729.99 335.15 L730.62 335.22 L731.24 335.29 L731.87 335.36 L732.49 335.43 L733.11 335.50 L733.74 335.57 L734.36 335.63 L734.99 335.70 L735.61 335.77 L736.24 335.84 L736.86 335.90 L737.48 335.97 L738.11 336.04 L738.73 336.11 L739.36 336.17 L739.98 336.24 L740.61 336.31 L741.23 336.38 L741.85 336.45 L742.48 336.52 L743.10 336.59 L743.73 336.66 L744.35 336.73 L744.97 336.81 L745.60 336.88 L746.22 336.95 L746.84 337.03 L747.47 337.10 L748.09 337.17 L748.72 337.25 L749.34 337.32 L749.96 337.39 L750.59 337.47 L751.21 337.54 L751.83 337.62 L752.46 337.69 L753.08 337.77 L753.70 337.84 L754.33 337.92 L754.95 337.99 L755.57 338.07 L756.20 338.14 L756.82 338.22 L757.45 338.29 L758.07 338.37 L758.69 338.44 L759.32 338.52 L759.94 338.59 L760.56 338.67 L761.19 338.74 L761.81 338.81 L762.43 338.89 L763.06 338.96 L763.68 339.03 L764.31 339.10 L764.93 339.18 L765.55 339.25 L766.18 339.32 L766.80 339.39 L767.42 339.46 L768.05 339.53 L768.67 339.61 L769.30 339.68 L769.92 339.75 L770.54 339.82 L771.17 339.89 L771.79 339.96 L772.42 340.04 L773.04 340.11 L773.66 340.18 L774.29 340.25 L774.91 340.33 L775.54 340.40 L776.16 340.47 L776.78 340.54 L777.41 340.62 L778.03 340.69 L778.65 340.76 L779.28 340.83 L779.90 340.91 L780.53 340.98 L781.15 341.05 L781.77 341.12 L782.40 341.19 L783.02 341.27 L783.64 341.34 L784.27 341.41 L784.89 341.48 L785.52 341.55 L786.14 341.62 L786.76 341.70 L787.39 341.77 L788.01 341.84 L788.64 341.91 L789.26 341.98 L789.88 342.05 L790.51 342.12 L791.13 342.18 L791.76 342.25 L792.38 342.32 L793.01 342.39 L793.63 342.46 L794.25 342.52 L794.88 342.59 L795.50 342.66 L796.13 342.72 L796.75 342.79 L797.38 342.86 L798.00 342.92 L798.63 342.99 L799.25 343.06 L799.87 343.12 L800.50 343.19 L801.12 343.25 L801.75 343.32 L802.37 343.39 L803.00 343.46 L803.62 343.52 L804.25 343.59 L804.87 343.66 L805.49 343.73 L806.12 343.80 L806.74 343.87 L807.37 343.94 L807.99 344.01 L808.61 344.09 L809.24 344.16 L809.86 344.23 L810.48 344.31 L811.11 344.38 L811.73 344.46 L812.35 344.54 L812.98 344.62 L813.60 344.70 L816.58 345.08"/>
<path clip-path="url(#c)" stroke="#000" d="M105.57 42.39 L105.90 44.46 L106.43 47.82 L106.96 51.15 L107.50 54.45 L108.03 57.73 L108.56 60.98 L109.09 64.21 L109.62 67.41 L110.16 70.59 L110.69 73.74 L111.22 76.86 L111.75 79.97 L112.29 83.04 L112.82 86.09 L113.35 89.12 L113.88 92.13 L114.41 95.11 L114.95 98.06 L115.48 101.00 L116.01 103.91 L116.54 106.80 L117.07 109.66 L117.61 112.50 L118.14 115.32 L118.67 118.12 L119.20 120.90 L119.73 123.65 L120.27 126.38 L120.80 129.09 L121.33 131.78 L121.86 134.45 L122.40 137.10 L122.93 139.73 L123.46 142.33 L123.99 144.92 L124.52 147.48 L125.06 150.03 L125.59 152.55 L126.12 155.06 L126.65 157.55 L127.18 160.01 L127.72 162.46 L128.25 164.89 L128.78 167.30 L129.31 169.69 L129.84 172.06 L130.38 174.42 L130.91 176.75 L131.44 179.07 L131.97 181.37 L132.51 183.65 L133.04 185.91 L133.57 188.16 L134.10 190.39 L134.63 192.60 L135.17 194.79 L135.70 196.97 L136.23 199.13 L136.76 201.27 L137.29 203.40 L137.83 205.51 L138.36 207.60 L138.89 209.68 L139.42 211.74 L139.95 213.79 L140.49 215.82 L141.02 217.83 L141.55 219.83 L142.08 221.81 L142.62 223.78 L143.15 225.73 L143.68 227.67 L144.21 229.59 L144.74 231.50 L145.28 233.39 L145.81 235.27 L146.34 237.14 L146.87 238.99 L147.40 240.82 L147.94 242.64 L148.47 244.45 L149.00 246.24 L149.53 248.02 L150.06 249.79 L150.60 251.54 L151.13 253.28 L151.66 255.00 L152.19 256.71 L152.73 258.41 L153.26 260.10 L153.79 261.77 L154.32 263.43 L154.85 265.08 L155.39 266.71 L155.92 268.34 L156.45 269.95 L156.98 271.54 L157.51 273.13 L158.05 274.70 L158.58 276.26 L159.11 277.81 L159.64 279.35 L160.17 280.87 L160.71 282.39 L161.24 283.89 L161.77 285.38 L162.30 286.86 L162.84 288.32 L163.37 289.78 L163.90 291.23 L164.43 292.66 L164.96 294.08 L165.50 295.50 L166.03 296.90 L166.56 298.29 L167.09 299.67 L167.62 301.04 L168.16 302.40 L168.69 303.75 L169.22 305.09 L169.75 306.42 L170.28 307.73 L170.82 309.04 L171.35 310.34 L171.88 311.63 L172.41 312.91 L172.95 314.18 L173.48 315.44 L174.01 316.69 L174.54 317.93 L175.07 319.16 L175.61 320.38 L176.14 321.59 L176.67 322.80 L177.20 323.99 L177.73 325.17 L178.27 326.35 L178.80 327.52 L179.33 328.67 L179.86 329.82 L180.39 330.96 L180.93 332.10 L181.46 333.22 L181.99 334.33 L182.52 335.44 L183.06 336.54 L183.59 337.63 L184.12 338.71 L184.65 339.78 L185.18 340.85 L185.72 341.90 L186.25 342.95 L186.78 343.99 L187.31 345.03 L187.84 346.05 L188.38 347.07 L188.91 348.08 L189.44 349.08 L189.97 350.08 L190.50 351.06 L191.04 352.04 L191.57 353.01 L192.10 353.98 L192.63 354.94 L193.17 355.89 L193.70 356.83 L194.23 357.77 L194.76 358.70 L195.29 359.62 L195.83 360.53 L196.36 361.44 L196.89 362.34 L197.42 363.24 L197.95 364.12 L198.49 365.00 L199.02 365.88 L199.55 366.75 L200.08 367.61 L200.61 368.46 L201.15 369.31 L201.68 370.15 L202.21 370.99 L202.74 371.82 L203.28 372.64 L203.81 373.46 L204.34 374.27 L204.87 375.07 L205.40 375.87 L205.94 376.66 L206.47 377.45 L207.00 378.23 L207.53 379.00 L208.06 379.77 L208.60 380.54 L209.13 381.29 L209.66 382.04 L210.19 382.79 L210.72 383.53 L211.26 384.27 L211.79 384.99 L212.32 385.72 L212.85 386.44 L213.39 387.15 L213.92 387.86 L214.45 388.56 L214.98 389.26 L215.51 389.95 L216.05 390.63 L216.58 391.32 L217.11 391.99 L217.64 392.66 L218.17 393.33 L218.71 393.99 L219.24 394.65 L219.77 395.30 L220.30 395.94 L220.83 396.58 L221.37 397.22 L221.90 397.85 L222.43 398.48 L222.96 399.10 L223.50 399.72 L224.03 400.33 L224.56 400.94 L225.09 401.55 L225.62 402.15 L226.16 402.74 L226.69 403.33 L227.22 403.92 L227.75 404.50 L228.28 405.08 L228.82 405.65 L229.35 406.22 L229.88 406.78 L230.41 407.34 L230.94 407.90 L231.48 408.45 L232.01 409.00 L232.54 409.54 L233.07 410.08 L233.61 410.62 L234.14 411.15 L234.67 411.68 L235.20 412.20 L235.73 412.72 L236.27 413.23 L236.80 413.75 L237.33 414.25 L237.86 414.76 L238.39 415.26 L238.93 415.76 L239.46 416.25 L239.99 416.74 L240.52 417.22 L241.05 417.71 L241.59 418.18 L242.12 418.66 L242.65 419.13 L243.18 419.60 L243.72 420.06 L244.25 420.52 L244.78 420.98 L245.31 421.43 L245.84 421.88 L246.38 422.33 L246.91 422.77 L247.44 423.22 L247.97 423.65 L248.50 424.09 L249.04 424.52 L249.57 424.94 L250.10 425.37 L250.63 425.79 L251.16 426.21 L251.70 426.62 L252.23 427.03 L252.76 427.44 L253.29 427.85 L253.83 428.25 L254.36 428.65 L254.89 429.05 L255.42 429.44 L255.95 429.83 L256.49 430.22 L257.02 430.60 L257.55 430.99 L258.08 431.37 L258.61 431.74 L259.15 432.12 L259.68 432.49 L260.21 432.85 L260.74 433.22 L261.27 433.58 L261.81 433.94 L262.34 434.30 L262.87 434.65 L263.40 435.00 L263.94 435.35 L264.47 435.70 L265.00 436.04 L265.53 436.39 L266.06 436.72 L266.60 437.06 L267.13 437.39 L267.66 437.73 L268.19 438.05 L268.72 438.38 L269.26 438.71 L269.79 439.03 L270.32 439.35 L270.85 439.66 L271.38 439.98 L271.92 440.29 L272.45 440.60 L272.98 440.91 L273.51 441.21 L274.05 441.51 L274.58 441.81 L275.11 442.11 L275.64 442.41 L276.17 442.70 L276.71 442.99 L277.24 443.28 L277.77 443.57 L278.30 443.86 L278.83 444.14 L279.37 444.42 L279.90 444.70 L280.43 444.98 L280.96 445.25 L281.49 445.52 L282.03 445.80 L282.56 446.06 L283.09 446.33 L283.62 446.60 L284.16 446.86 L284.69 447.12 L285.22 447.38 L285.75 447.63 L286.28 447.89 L286.82 448.14 L287.35 448.39 L287.88 448.64 L288.41 448.89 L288.94 449.14 L289.48 449.38 L290.01 449.62 L290.54 449.86 L291.07 450.10 L291.60 450.34 L292.14 450.57 L292.67 450.81 L293.20 451.04 L293.73 451.27 L294.27 451.49 L294.80 451.72 L295.33 451.95 L295.86 452.17 L296.39 452.39 L296.93 452.61 L297.46 452.83 L297.99 453.04 L298.52 453.26 L299.05 453.47 L299.59 453.68 L300.12 453.89 L300.65 454.10 L301.18 454.31 L301.71 454.51 L302.25 454.72 L302.78 454.92 L303.31 455.12 L303.84 455.32 L304.38 455.52 L304.91 455.71 L305.44 455.91 L305.97 456.10 L306.50 456.29 L307.04 456.48 L307.57 456.67 L308.10 456.86 L308.63 457.05 L309.16 457.23 L309.70 457.42 L310.23 457.60 L310.76 457.78 L311.29 457.96 L311.82 458.14 L312.36 458.31 L312.89 458.49 L313.42 458.66 L313.95 458.84 L314.49 459.01 L315.02 459.18 L315.55 459.35 L316.08 459.51 L316.61 459.68 L317.15 459.85 L317.68 460.01 L318.21 460.17 L319.87 460.67 L321.52 461.16 L323.18 461.64 L324.84 462.10 L326.49 462.56 L328.15 463.00 L329.81 463.44 L331.46 463.86 L333.12 464.28 L334.78 464.68 L336.44 465.08 L338.09 465.46 L339.75 465.84 L341.41 466.21 L343.06 466.57 L344.72 466.92 L346.38 467.27 L348.03 467.60 L349.69 467.93 L351.35 468.25 L353.00 468.57 L354.66 468.87 L356.32 469.17 L357.97 469.47 L359.63 469.75 L361.29 470.03 L362.94 470.30 L364.60 470.57 L366.26 470.83 L367.91 471.09 L369.57 471.33 L371.23 471.58 L372.89 471.81 L374.54 472.05 L376.20 472.27 L377.86 472.49 L379.51 472.71 L381.17 472.92 L382.83 473.13 L384.48 473.33 L386.14 473.53 L387.80 473.72 L389.45 473.91 L391.11 474.09 L392.77 474.27 L394.42 474.45 L396.08 474.62 L397.74 474.79 L399.39 474.95 L401.05 475.11 L402.71 475.26 L404.36 475.42 L406.02 475.57 L407.68 475.71 L409.34 475.85 L410.99 475.99 L412.65 476.13 L414.31 476.26 L415.96 476.39 L417.62 476.52 L419.28 476.64 L420.93 476.76 L422.59 476.88 L424.25 477.00 L425.90 477.11 L427.56 477.22 L429.22 477.33 L430.87 477.43 L432.53 477.54 L434.19 477.64 L435.84 477.73 L437.50 477.83 L439.16 477.92 L440.81 478.02 L442.47 478.10 L444.13 478.19 L445.79 478.28 L447.44 478.36 L449.10 478.44 L450.76 478.52 L452.41 478.60 L454.07 478.68 L455.73 478.75 L457.38 478.82 L459.04 478.89 L460.70 478.96 L462.35 479.03 L464.01 479.10 L465.67 479.16 L467.32 479.22 L468.98 479.29 L470.64 479.35 L472.29 479.40 L473.95 479.46 L475.61 479.52 L477.26 479.57 L478.92 479.63 L480.58 479.68 L482.24 479.73 L483.89 479.78 L485.55 479.83 L487.21 479.88 L488.86 479.92 L490.52 479.97 L492.18 480.01 L493.83 480.06 L495.49 480.10 L497.15 480.14 L498.80 480.18 L500.46 480.22 L502.12 480.26 L503.77 480.30 L505.43 480.33 L507.09 480.37 L508.74 480.41 L510.40 480.44 L512.06 480.47 L513.72 480.51 L515.37 480.54 L517.03 480.57 L518.69 480.60 L520.34 480.63 L522.00 480.66 L523.66 480.69 L525.31 480.72 L526.97 480.74 L528.63 480.77 L530.28 480.80 L531.94 480.82 L533.60 480.85 L535.25 480.87 L536.91 480.89 L538.57 480.92 L540.22 480.94 L541.88 480.96 L543.54 480.98 L545.19 481.00 L546.85 481.03 L548.51 481.05 L550.17 481.07 L551.82 481.08 L553.48 481.10 L555.14 481.12 L556.79 481.14 L558.45 481.16 L560.11 481.17 L561.76 481.19 L563.42 481.21 L565.08 481.22 L566.73 481.24 L568.39 481.25 L570.05 481.27 L571.70 481.28 L573.36 481.30 L575.02 481.31 L576.67 481.33 L578.33 481.34 L579.99 481.35 L581.64 481.36 L583.30 481.38 L584.96 481.39 L586.62 481.40 L588.27 481.41 L589.93 481.42 L591.59 481.43 L593.24 481.44 L594.90 481.46 L596.56 481.47 L598.21 481.48 L599.87 481.49 L601.53 481.49 L603.18 481.50 L604.84 481.51 L606.50 481.52 L608.15 481.53 L609.81 481.54 L611.47 481.55 L613.12 481.56 L614.78 481.56 L616.44 481.57 L618.09 481.58 L619.75 481.59 L621.41 481.59 L623.07 481.60 L624.72 481.61 L626.38 481.61 L628.04 481.62 L629.69 481.63 L631.35 481.63 L633.01 481.64 L634.66 481.65 L636.32 481.65 L637.98 481.66 L639.63 481.66 L641.29 481.67 L642.95 481.67 L644.60 481.68 L646.26 481.68 L647.92 481.69 L649.57 481.69 L651.23 481.70 L652.89 481.70 L654.55 481.71 L656.20 481.71 L657.86 481.72 L659.52 481.72 L661.17 481.72 L662.83 481.73 L664.49 481.73 L666.14 481.74 L667.80 481.74 L669.46 481.74 L671.11 481.75 L672.77 481.75 L674.43 481.75 L676.08 481.76 L677.74 481.76 L679.40 481.76 L681.05 481.77 L682.71 481.77 L684.37 481.77 L686.02 481.78 L687.68 481.78 L689.34 481.78 L691.00 481.78 L692.65 481.79 L694.31 481.79 L695.97 481.79 L697.62 481.80 L699.28 481.80 L700.94 481.80 L702.59 481.80 L704.25 481.80 L705.91 481.81 L707.56 481.81 L709.22 481.81 L710.88 481.81 L712.53 481.82 L714.19 481.82 L715.85 481.82 L717.50 481.82 L719.16 481.82 L720.82 481.82 L722.47 481.83 L724.13 481.83 L725.79 481.83 L727.45 481.83 L729.10 481.83 L730.76 481.83 L732.42 481.84 L734.07 481.84 L735.73 481.84 L737.39 481.84 L739.04 481.84 L740.70 481.84 L742.36 481.84 L744.01 481.85 L745.67 481.85 L747.33 481.85 L748.98 481.85 L750.64 481.85 L752.30 481.85 L753.95 481.85 L755.61 481.85 L757.27 481.85 L758.92 481.86 L760.58 481.86 L762.24 481.86 L763.90 481.86 L765.55 481.86 L767.21 481.86 L768.87 481.86 L770.52 481.86 L772.18 481.86 L773.84 481.86 L775.49 481.87 L777.15 481.87 L778.81 481.87 L780.46 481.87 L782.12 481.87 L783.78 481.87 L785.43 481.87 L787.09 481.87 L788.75 481.87 L790.40 481.87 L792.06 481.87 L793.72 481.87 L795.37 481.87 L797.03 481.87 L798.69 481.87 L800.35 481.88 L802.00 481.88 L803.66 481.88 L805.32 481.88 L806.97 481.88 L808.63 481.88 L810.29 481.88 L811.94 481.88 L813.60 481.88"/>
<path clip-path="url(#d)" stroke="#000" stroke-dasharray="20.9 10.25" stroke-dashoffset="3.40" d="M105.90 44.46 L106.00 45.10 L106.10 45.74 L106.20 46.39 L106.31 47.03 L106.41 47.67 L106.51 48.31 L106.61 48.96 L106.72 49.60 L106.82 50.24 L106.92 50.88 L107.02 51.52 L107.13 52.17 L107.23 52.81 L107.33 53.45 L107.44 54.09 L107.54 54.73 L107.65 55.38 L107.75 56.02 L107.85 56.66 L107.96 57.30 L108.06 57.94 L108.17 58.58 L108.27 59.23 L108.38 59.87 L108.48 60.51 L108.59 61.15 L108.69 61.79 L108.80 62.43 L108.90 63.08 L109.01 63.72 L109.12 64.36 L109.22 65.00 L109.33 65.64 L109.44 66.28 L109.54 66.93 L109.65 67.57 L109.76 68.21 L109.86 68.85 L109.97 69.49 L110.08 70.13 L110.19 70.77 L110.30 71.41 L110.40 72.06 L110.51 72.70 L110.62 73.34 L110.73 73.98 L110.84 74.62 L110.95 75.26 L111.06 75.90 L111.17 76.54 L111.28 77.18 L111.39 77.82 L111.50 78.47 L111.61 79.11 L111.72 79.75 L111.83 80.39 L111.94 81.03 L112.05 81.67 L112.16 82.31 L112.27 82.95 L112.38 83.59 L112.49 84.23 L112.60 84.87 L112.72 85.51 L112.83 86.15 L112.94 86.79 L113.05 87.43 L113.17 88.08 L113.28 88.72 L113.39 89.36 L113.50 90.00 L113.62 90.64 L113.73 91.28 L113.84 91.92 L113.96 92.56 L114.07 93.20 L114.19 93.84 L114.30 94.48 L114.42 95.12 L114.53 95.76 L114.65 96.40 L114.76 97.04 L114.88 97.68 L114.99 98.32 L115.11 98.96 L115.22 99.60 L115.34 100.24 L115.46 100.88 L115.57 101.52 L115.69 102.16 L115.81 102.80 L115.92 103.44 L116.04 104.08 L116.16 104.71 L116.28 105.35 L116.39 105.99 L116.51 106.63 L116.63 107.27 L116.75 107.91 L116.87 108.55 L116.99 109.19 L117.11 109.83 L117.23 110.47 L117.34 111.11 L117.46 111.75 L117.58 112.39 L117.70 113.03 L117.83 113.66 L117.95 114.30 L118.07 114.94 L118.19 115.58 L118.31 116.22 L118.43 116.86 L118.55 117.50 L118.67 118.14 L118.80 118.77 L118.92 119.41 L119.04 120.05 L119.16 120.69 L119.29 121.33 L119.41 121.97 L119.53 122.61 L119.66 123.24 L119.78 123.88 L119.90 124.52 L120.03 125.16 L120.15 125.80 L120.28 126.44 L120.40 127.07 L120.53 127.71 L120.65 128.35 L120.78 128.99 L120.90 129.63 L121.03 130.26 L121.16 130.90 L121.28 131.54 L121.41 132.18 L121.54 132.82 L121.66 133.45 L121.79 134.09 L121.92 134.73 L122.05 135.37 L122.17 136.00 L122.30 136.64 L122.43 137.28 L122.56 137.92 L122.69 138.55 L122.82 139.19 L122.95 139.83 L123.08 140.46 L123.21 141.10 L123.34 141.74 L123.47 142.38 L123.60 143.01 L123.73 143.65 L123.86 144.29 L123.99 144.92 L124.12 145.56 L124.26 146.20 L124.39 146.83 L124.52 147.47 L124.65 148.11 L124.79 148.74 L124.92 149.38 L125.05 150.02 L125.19 150.65 L125.32 151.29 L125.45 151.92 L125.59 152.56 L125.72 153.20 L125.86 153.83 L125.99 154.47 L126.13 155.11 L126.27 155.74 L126.40 156.38 L126.54 157.01 L126.67 157.65 L126.81 158.28 L126.95 158.92 L127.09 159.56 L127.22 160.19 L127.36 160.83 L127.50 161.46 L127.64 162.10 L127.78 162.73 L127.91 163.37 L128.05 164.00 L128.19 164.64 L128.33 165.27 L128.47 165.91 L128.61 166.54 L128.75 167.18 L128.89 167.81 L129.04 168.45 L129.18 169.08 L129.32 169.72 L129.46 170.35 L129.60 170.99 L129.75 171.62 L129.89 172.25 L130.03 172.89 L130.17 173.52 L130.32 174.16 L130.46 174.79 L130.61 175.43 L130.75 176.06 L130.90 176.69 L131.04 177.33 L131.19 177.96 L131.33 178.59 L131.48 179.23 L131.62 179.86 L131.77 180.50 L131.92 181.13 L132.06 181.76 L132.21 182.40 L132.36 183.03 L132.51 183.66 L132.66 184.30 L132.81 184.93 L132.95 185.56 L133.10 186.19 L133.25 186.83 L133.40 187.46 L133.55 188.09 L133.70 188.72 L133.86 189.36 L134.01 189.99 L134.16 190.62 L134.31 191.25 L134.46 191.89 L134.61 192.52 L134.77 193.15 L134.92 193.78 L135.07 194.41 L135.23 195.05 L135.38 195.68 L135.54 196.31 L135.69 196.94 L135.85 197.57 L136.00 198.20 L136.16 198.84 L136.31 199.47 L136.47 200.10 L136.63 200.73 L136.78 201.36 L136.94 201.99 L137.10 202.62 L137.26 203.25 L137.42 203.88 L137.57 204.51 L137.73 205.14 L137.89 205.77 L138.05 206.40 L138.21 207.03 L138.37 207.66 L138.54 208.29 L138.70 208.92 L138.86 209.55 L139.02 210.18 L139.18 210.81 L139.35 211.44 L139.51 212.07 L139.67 212.70 L139.84 213.33 L140.00 213.96 L140.16 214.59 L140.33 215.22 L140.49 215.85 L140.66 216.48 L140.83 217.11 L140.99 217.73 L141.16 218.36 L141.33 218.99 L141.49 219.62 L141.66 220.25 L141.83 220.88 L142.00 221.50 L142.17 222.13 L142.34 222.76 L142.51 223.39 L142.68 224.01 L142.85 224.64 L143.02 225.27 L143.19 225.90 L143.36 226.52 L143.54 227.15 L143.71 227.78 L143.88 228.40 L144.06 229.03 L144.23 229.66 L144.40 230.28 L144.58 230.91 L144.75 231.54 L144.93 232.16 L145.11 232.79 L145.28 233.41 L145.46 234.04 L145.64 234.67 L145.81 235.29 L145.99 235.92 L146.17 236.54 L146.35 237.17 L146.53 237.79 L146.71 238.42 L146.89 239.04 L147.07 239.67 L147.25 240.29 L147.43 240.91 L147.61 241.54 L147.80 242.16 L147.98 242.79 L148.16 243.41 L148.35 244.03 L148.53 244.66 L148.72 245.28 L148.90 245.91 L149.09 246.53 L149.27 247.15 L149.46 247.77 L149.65 248.40 L149.83 249.02 L150.02 249.64 L150.21 250.26 L150.40 250.89 L150.59 251.51 L150.78 252.13 L150.97 252.75 L151.16 253.37 L151.35 254.00 L151.54 254.62 L151.73 255.24 L151.93 255.86 L152.12 256.48 L152.31 257.10 L152.51 257.72 L152.70 258.34 L152.90 258.96 L153.09 259.58 L153.29 260.20 L153.49 260.82 L153.68 261.44 L153.88 262.06 L154.08 262.68 L154.28 263.30 L154.48 263.92 L154.68 264.54 L154.88 265.16 L155.08 265.77 L155.28 266.39 L155.48 267.01 L155.69 267.63 L155.89 268.25 L156.09 268.86 L156.30 269.48 L156.50 270.10 L156.71 270.72 L156.91 271.33 L157.12 271.95 L157.33 272.57 L157.53 273.18 L157.74 273.80 L157.95 274.41 L158.16 275.03 L158.37 275.64 L158.58 276.26 L158.79 276.87 L159.00 277.49 L159.21 278.10 L159.42 278.72 L159.64 279.33 L159.85 279.95 L160.07 280.56 L160.28 281.18 L160.50 281.79 L160.71 282.40 L160.93 283.02 L161.15 283.63 L161.36 284.24 L161.58 284.85 L161.80 285.47 L162.02 286.08 L162.24 286.69 L162.46 287.30 L162.69 287.91 L162.91 288.52 L163.13 289.13 L163.35 289.74 L163.58 290.35 L163.80 290.96 L164.03 291.57 L164.25 292.18 L164.48 292.79 L164.71 293.40 L164.94 294.01 L165.17 294.62 L165.39 295.23 L165.62 295.84 L165.86 296.45 L166.09 297.05 L166.32 297.66 L166.55 298.27 L166.78 298.87 L167.02 299.48 L167.25 300.09 L167.49 300.69 L167.73 301.30 L167.96 301.91 L168.20 302.51 L168.44 303.12 L168.68 303.72 L168.92 304.32 L169.16 304.93 L169.40 305.53 L169.64 306.14 L169.88 306.74 L170.13 307.34 L170.37 307.95 L170.61 308.55 L170.86 309.15 L171.11 309.75 L171.35 310.35 L171.60 310.95 L171.85 311.56 L172.10 312.16 L172.35 312.76 L172.60 313.36 L172.85 313.96 L173.10 314.56 L173.36 315.15 L173.61 315.75 L173.87 316.35 L174.12 316.95 L174.38 317.55 L174.63 318.14 L174.89 318.74 L175.15 319.34 L175.41 319.93 L175.67 320.53 L175.93 321.12 L176.19 321.72 L176.46 322.31 L176.72 322.91 L176.98 323.50 L177.25 324.10 L177.52 324.69 L177.78 325.28 L178.05 325.88 L178.32 326.47 L178.59 327.06 L178.86 327.65 L179.13 328.24 L179.40 328.83 L179.68 329.42 L179.95 330.01 L180.23 330.60 L180.50 331.19 L180.78 331.78 L181.06 332.37 L181.33 332.95 L181.61 333.54 L181.89 334.13 L182.17 334.71 L182.46 335.30 L182.74 335.89 L183.02 336.47 L183.31 337.06 L183.59 337.64 L183.88 338.22 L184.17 338.80 L184.47 339.38 L184.76 339.96 L185.06 340.54 L185.36 341.12 L185.66 341.70 L185.96 342.27 L186.27 342.85 L186.58 343.42 L186.88 343.99 L187.20 344.56 L187.51 345.13 L187.82 345.70 L188.14 346.27 L188.45 346.84 L188.77 347.41 L189.09 347.97 L189.41 348.54 L189.74 349.10 L190.06 349.67 L190.38 350.23 L190.71 350.79 L191.04 351.36 L191.37 351.92 L191.69 352.48 L192.03 353.04 L192.36 353.60 L192.69 354.16 L193.02 354.72 L193.36 355.27 L193.69 355.83 L194.03 356.39 L194.37 356.94 L194.70 357.50 L195.04 358.05 L195.38 358.61 L195.72 359.16 L196.06 359.71 L196.41 360.27 L196.75 360.82 L197.09 361.37 L197.44 361.92 L197.79 362.47 L198.13 363.02 L198.48 363.57 L198.83 364.12 L199.18 364.67 L199.53 365.22 L199.89 365.77 L200.24 366.31 L200.60 366.85 L200.96 367.40 L201.32 367.94 L201.68 368.48 L202.05 369.01 L202.42 369.55 L202.79 370.08 L203.17 370.61 L203.54 371.14 L203.92 371.67 L204.31 372.19 L204.70 372.72 L205.09 373.23 L205.48 373.75 L205.88 374.27 L206.28 374.78 L206.68 375.29 L207.09 375.80 L207.49 376.30 L207.90 376.81 L208.31 377.32 L208.72 377.82 L209.13 378.33 L209.54 378.83 L209.95 379.33 L210.36 379.84 L210.77 380.35 L211.18 380.85 L211.58 381.36 L211.99 381.87 L212.39 382.38 L212.79 382.90 L213.18 383.41 L213.57 383.93 L213.96 384.45 L214.35 384.98 L214.73 385.50 L215.11 386.03 L215.49 386.56 L215.86 387.09 L216.24 387.62 L216.62 388.15 L216.99 388.69 L217.37 389.22 L217.75 389.74 L218.13 390.27 L218.51 390.80 L218.90 391.32 L219.29 391.84 L219.69 392.35 L220.09 392.86 L220.49 393.37 L220.90 393.88 L221.31 394.38 L221.73 394.88 L222.15 395.37 L222.58 395.86 L223.01 396.35 L223.44 396.83 L223.88 397.32 L224.32 397.79 L224.77 398.27 L225.21 398.75 L225.66 399.22 L226.11 399.69 L226.57 400.16 L227.02 400.62 L227.48 401.09 L227.94 401.55 L228.40 402.01 L228.87 402.46 L229.33 402.92 L229.81 403.37 L230.28 403.81 L230.76 404.25 L231.24 404.69 L231.73 405.12 L232.22 405.55 L232.71 405.97 L233.21 406.38 L233.72 406.79 L234.23 407.19 L234.75 407.59 L235.27 407.97 L235.80 408.35 L236.34 408.72 L236.88 409.09 L237.42 409.44 L237.98 409.79 L238.53 410.13 L239.10 410.46 L239.66 410.78 L240.23 411.09 L240.81 411.40 L241.39 411.69 L241.98 411.98 L242.57 412.26 L243.16 412.53 L243.76 412.79 L244.36 413.04 L244.96 413.28 L245.57 413.51 L246.18 413.74 L246.79 413.96 L247.41 414.17 L248.03 414.37 L248.65 414.56 L249.27 414.75 L249.90 414.93 L250.53 415.10 L251.16 415.26 L251.79 415.42 L252.43 415.57 L253.06 415.71 L253.70 415.85 L254.34 415.98 L254.98 416.11 L255.62 416.23 L256.26 416.34 L256.90 416.44 L257.55 416.54 L258.19 416.63 L258.84 416.71 L259.49 416.79 L260.13 416.85 L260.78 416.92 L261.43 416.97 L262.08 417.01 L262.73 417.05 L263.38 417.08 L264.03 417.10 L264.68 417.12 L265.33 417.12 L265.98 417.12 L266.63 417.11 L267.28 417.10 L267.93 417.08 L268.58 417.05 L269.23 417.01 L269.88 416.97 L270.53 416.93 L271.18 416.88 L271.83 416.82 L272.48 416.76 L273.12 416.69 L273.77 416.63 L274.42 416.55 L275.06 416.48 L275.71 416.39 L276.35 416.31 L277.00 416.22 L277.64 416.13 L278.29 416.04 L278.93 415.94 L279.57 415.84 L280.21 415.74 L280.86 415.64 L281.50 415.53 L282.14 415.43 L282.78 415.31 L283.42 415.20 L284.06 415.09 L284.70 414.97 L285.34 414.86 L285.98 414.74 L286.62 414.62 L287.26 414.50 L287.90 414.37 L288.53 414.25 L289.17 414.12 L289.81 413.99 L290.45 413.86 L291.08 413.73 L291.72 413.60 L292.36 413.47 L292.99 413.33 L293.63 413.19 L294.26 413.05 L294.90 412.91 L295.53 412.77 L296.17 412.62 L296.80 412.48 L297.43 412.33 L298.07 412.18 L298.70 412.03 L299.33 411.88 L299.96 411.73 L300.60 411.58 L301.23 411.43 L301.86 411.27 L302.49 411.12 L303.12 410.96 L303.76 410.81 L304.39 410.65 L305.02 410.50 L305.65 410.34 L306.28 410.19 L306.91 410.03 L307.54 409.87 L308.18 409.72 L308.81 409.56 L309.44 409.41 L310.07 409.25 L310.70 409.10 L311.33 408.94 L311.96 408.78 L312.59 408.63 L313.23 408.47 L313.86 408.32 L314.49 408.16 L315.12 408.01 L315.75 407.85 L316.38 407.70 L317.02 407.55 L317.65 407.39 L318.28 407.24 L318.91 407.08 L319.54 406.93 L320.18 406.78 L320.81 406.63 L321.44 406.47 L322.07 406.32 L322.70 406.17 L323.34 406.02 L323.97 405.87 L324.60 405.72 L325.23 405.57 L325.87 405.42 L326.50 405.27 L327.13 405.12 L327.77 404.97 L328.40 404.83 L329.03 404.68 L329.67 404.53 L330.30 404.38 L330.93 404.24 L331.57 404.09 L332.20 403.94 L332.83 403.80 L333.47 403.65 L334.10 403.50 L334.73 403.35 L335.37 403.21 L336.00 403.06 L336.63 402.91 L337.27 402.77 L337.90 402.62 L338.53 402.47 L339.17 402.32 L339.80 402.18 L340.43 402.03 L341.07 401.88 L341.70 401.74 L342.34 401.59 L342.97 401.45 L343.60 401.30 L344.24 401.16 L344.87 401.02 L345.51 400.87 L346.14 400.73 L346.78 400.59 L347.41 400.45 L348.05 400.31 L348.68 400.18 L349.32 400.04 L349.95 399.90 L350.59 399.77 L351.23 399.64 L351.86 399.50 L352.50 399.37 L353.14 399.24 L353.78 399.12 L354.41 398.99 L355.05 398.87 L355.69 398.74 L356.33 398.62 L356.97 398.50 L357.61 398.39 L358.25 398.27 L358.89 398.16 L359.53 398.04 L360.17 397.93 L360.81 397.82 L361.45 397.71 L362.09 397.60 L362.73 397.49 L363.37 397.38 L364.01 397.28 L364.66 397.17 L365.30 397.07 L365.94 396.96 L366.58 396.86 L367.22 396.75 L367.87 396.65 L368.51 396.55 L369.15 396.44 L369.79 396.34 L370.44 396.24 L371.08 396.14 L371.72 396.04 L372.36 395.94 L373.01 395.84 L373.65 395.75 L374.29 395.65 L374.94 395.55 L375.58 395.46 L376.22 395.37 L376.87 395.27 L377.51 395.18 L378.15 395.09 L378.80 395.00 L379.44 394.91 L380.09 394.82 L380.73 394.74 L381.38 394.65 L382.02 394.57 L382.67 394.49 L383.31 394.41 L383.96 394.33 L384.60 394.25 L385.25 394.17 L385.89 394.09 L386.54 394.02 L387.18 393.95 L387.83 393.87 L388.48 393.80 L389.12 393.73 L389.77 393.67 L390.42 393.60 L391.06 393.53 L391.71 393.47 L392.36 393.41 L393.01 393.34 L393.65 393.28 L394.30 393.22 L394.95 393.16 L395.60 393.10 L396.24 393.04 L396.89 392.98 L397.54 392.92 L398.19 392.87 L398.83 392.81 L399.48 392.75 L400.13 392.70 L400.78 392.64 L401.43 392.59 L402.07 392.53 L402.72 392.48 L403.37 392.42 L404.02 392.37 L404.67 392.32 L405.31 392.27 L405.96 392.21 L406.61 392.16 L407.26 392.11 L407.91 392.06 L408.56 392.02 L409.20 391.97 L409.85 391.92 L410.50 391.87 L411.15 391.83 L411.80 391.78 L412.45 391.74 L413.10 391.69 L413.75 391.65 L414.39 391.61 L415.04 391.57 L415.69 391.53 L416.34 391.49 L416.99 391.45 L417.64 391.41 L418.29 391.37 L418.94 391.34 L419.59 391.30 L420.24 391.26 L420.89 391.23 L421.53 391.20 L422.18 391.16 L422.83 391.13 L423.48 391.10 L424.13 391.07 L424.78 391.03 L425.43 391.00 L426.08 390.97 L426.73 390.94 L427.38 390.91 L428.03 390.89 L428.68 390.86 L429.33 390.83 L429.98 390.80 L430.63 390.77 L431.28 390.74 L431.93 390.72 L432.58 390.69 L433.23 390.66 L433.88 390.64 L434.53 390.61 L435.18 390.59 L435.83 390.56 L436.48 390.53 L437.13 390.51 L437.78 390.48 L438.43 390.46 L439.08 390.44 L439.72 390.41 L440.37 390.39 L441.02 390.36 L441.67 390.34 L442.32 390.32 L442.97 390.29 L443.62 390.27 L444.27 390.25 L444.92 390.23 L445.57 390.21 L446.22 390.18 L446.87 390.16 L447.52 390.14 L448.17 390.12 L448.82 390.10 L449.47 390.08 L450.12 390.06 L450.77 390.04 L451.42 390.02 L452.07 390.00 L452.72 389.98 L453.37 389.96 L454.02 389.94 L454.67 389.92 L455.32 389.90 L455.97 389.88 L456.62 389.86 L457.27 389.85 L457.92 389.83 L458.57 389.81 L459.22 389.79 L459.87 389.78 L460.52 389.76 L461.17 389.74 L461.82 389.73 L462.47 389.71 L463.12 389.70 L463.77 389.68 L464.42 389.67 L465.07 389.65 L465.72 389.64 L466.37 389.62 L467.02 389.61 L467.67 389.59 L468.32 389.58 L468.97 389.57 L469.62 389.56 L470.27 389.54 L470.92 389.53 L471.57 389.52 L472.22 389.51 L472.87 389.50 L473.52 389.49 L474.17 389.47 L474.83 389.46 L475.48 389.45 L476.13 389.44 L476.78 389.44 L477.43 389.43 L478.08 389.42 L478.73 389.41 L479.38 389.40 L480.03 389.39 L480.68 389.39 L481.33 389.38 L481.98 389.37 L482.63 389.37 L483.28 389.36 L483.93 389.35 L484.58 389.35 L485.23 389.34 L485.88 389.34 L486.53 389.33 L487.18 389.32 L487.83 389.32 L488.48 389.31 L489.13 389.31 L489.78 389.30 L490.43 389.30 L491.08 389.29 L491.73 389.29 L492.38 389.28 L493.03 389.27 L493.68 389.27 L494.33 389.26 L494.98 389.26 L495.63 389.25 L496.28 389.24 L496.93 389.24 L497.58 389.23 L498.23 389.22 L498.88 389.22 L499.53 389.21 L500.18 389.21 L500.83 389.20 L501.48 389.19 L502.13 389.19 L502.78 389.18 L503.43 389.17 L504.08 389.17 L504.73 389.16 L505.38 389.15 L506.04 389.15 L506.69 389.14 L507.34 389.13 L507.99 389.13 L508.64 389.12 L509.29 389.11 L509.94 389.11 L510.59 389.10 L511.24 389.09 L511.89 389.09 L512.54 389.08 L513.19 389.07 L513.84 389.07 L514.49 389.06 L515.14 389.05 L515.79 389.05 L516.44 389.04 L517.09 389.04 L517.74 389.03 L518.39 389.02 L519.04 389.02 L519.69 389.01 L520.34 389.01 L520.99 389.00 L521.64 389.00 L522.29 388.99 L522.94 388.99 L523.59 388.98 L524.24 388.98 L524.89 388.97 L525.54 388.97 L526.19 388.96 L526.84 388.96 L527.49 388.96 L528.14 388.95 L528.79 388.95 L529.44 388.94 L530.09 388.94 L530.74 388.94 L531.39 388.93 L532.04 388.93 L532.69 388.93 L533.34 388.93 L533.99 388.92 L534.64 388.92 L535.30 388.92 L535.95 388.92 L536.60 388.91 L537.25 388.91 L537.90 388.91 L538.55 388.91 L539.20 388.91 L539.85 388.90 L540.50 388.90 L541.15 388.90 L541.80 388.90 L542.45 388.90 L543.10 388.90 L543.75 388.90 L544.40 388.89 L545.05 388.89 L545.70 388.89 L546.35 388.89 L547.00 388.89 L547.65 388.89 L548.30 388.89 L548.95 388.89 L549.60 388.89 L550.25 388.89 L550.90 388.89 L551.55 388.89 L552.20 388.89 L552.85 388.89 L553.50 388.89 L554.15 388.89 L554.80 388.89 L555.45 388.89 L556.10 388.89 L556.75 388.89 L557.40 388.89 L558.05 388.89 L558.70 388.89 L559.35 388.89 L560.00 388.89 L560.65 388.89 L561.30 388.89 L561.96 388.89 L562.61 388.89 L563.26 388.89 L563.91 388.89 L564.56 388.89 L565.21 388.89 L565.86 388.89 L566.51 388.89 L567.16 388.90 L567.81 388.90 L568.46 388.90 L569.11 388.90 L569.76 388.90 L570.41 388.90 L571.06 388.90 L571.71 388.90 L572.36 388.90 L573.01 388.90 L573.66 388.90 L574.31 388.90 L574.96 388.90 L575.61 388.90 L576.26 388.90 L576.91 388.90 L577.56 388.90 L578.21 388.90 L578.86 388.90 L579.51 388.90 L580.16 388.90 L580.81 388.91 L581.46 388.91 L582.11 388.91 L582.76 388.91 L583.41 388.91 L584.06 388.91 L584.71 388.91 L585.36 388.91 L586.01 388.91 L586.66 388.91 L587.31 388.91 L587.97 388.91 L588.62 388.91 L589.27 388.91 L589.92 388.91 L590.57 388.91 L591.22 388.91 L591.87 388.91 L592.52 388.91 L593.17 388.91 L593.82 388.91 L594.47 388.91 L595.12 388.91 L595.77 388.91 L596.42 388.91 L597.07 388.91 L597.72 388.91 L598.37 388.91 L599.02 388.91 L599.67 388.91 L600.32 388.91 L600.97 388.91 L601.62 388.91 L602.27 388.91 L602.92 388.91 L603.57 388.91 L604.22 388.91 L604.87 388.91 L605.52 388.91 L606.17 388.91 L606.82 388.91 L607.47 388.91 L608.12 388.91 L608.77 388.91 L609.42 388.91 L610.07 388.91 L610.72 388.91 L611.37 388.91 L612.02 388.91 L612.67 388.91 L613.32 388.91 L613.97 388.91 L614.63 388.91 L615.28 388.91 L615.93 388.91 L616.58 388.91 L617.23 388.91 L617.88 388.91 L618.53 388.91 L619.18 388.91 L619.83 388.91 L620.48 388.91 L621.13 388.91 L621.78 388.91 L622.43 388.91 L623.08 388.91 L623.73 388.91 L624.38 388.91 L625.03 388.91 L625.68 388.91 L626.33 388.91 L626.98 388.91 L627.63 388.91 L628.28 388.91 L628.93 388.91 L629.58 388.91 L630.23 388.91 L630.88 388.91 L631.53 388.91 L632.18 388.90 L632.83 388.90 L633.48 388.90 L634.13 388.90 L634.78 388.90 L635.43 388.90 L636.08 388.90 L636.73 388.90 L637.38 388.90 L638.03 388.90 L638.68 388.90 L639.33 388.90 L639.98 388.90 L640.63 388.90 L641.29 388.90 L641.94 388.90 L642.59 388.90 L643.24 388.90 L643.89 388.90 L644.54 388.90 L645.19 388.90 L645.84 388.90 L646.49 388.90 L647.14 388.90 L647.79 388.90 L648.44 388.90 L649.09 388.90 L649.74 388.90 L650.39 388.90 L651.04 388.90 L651.69 388.90 L652.34 388.90 L652.99 388.90 L653.64 388.90 L654.29 388.90 L654.94 388.90 L655.59 388.90 L656.24 388.90 L656.89 388.90 L657.54 388.90 L658.19 388.90 L658.84 388.90 L659.49 388.90 L660.14 388.90 L660.79 388.90 L661.44 388.90 L662.09 388.90 L662.74 388.90 L663.39 388.90 L664.04 388.90 L664.69 388.90 L665.34 388.90 L665.99 388.90 L666.64 388.90 L667.29 388.90 L667.95 388.90 L668.60 388.90 L669.25 388.90 L669.90 388.90 L670.55 388.90 L671.20 388.90 L671.85 388.90 L672.50 388.90 L673.15 388.90 L673.80 388.90 L674.45 388.90 L675.10 388.90 L675.75 388.90 L676.40 388.90 L677.05 388.90 L677.70 388.90 L678.35 388.90 L679.00 388.90 L679.65 388.90 L680.30 388.90 L680.95 388.90 L681.60 388.90 L682.25 388.90 L682.90 388.90 L683.55 388.90 L684.20 388.90 L684.85 388.90 L685.50 388.90 L686.15 388.90 L686.80 388.90 L687.45 388.90 L688.10 388.90 L688.75 388.90 L689.40 388.90 L690.05 388.90 L690.70 388.90 L691.35 388.90 L692.00 388.90 L692.65 388.90 L693.30 388.90 L693.95 388.90 L694.61 388.90 L695.26 388.90 L695.91 388.90 L696.56 388.90 L697.21 388.90 L697.86 388.90 L698.51 388.90 L699.16 388.90 L699.81 388.90 L700.46 388.90 L701.11 388.90 L701.76 388.90 L702.41 388.90 L703.06 388.90 L703.71 388.90 L704.36 388.90 L705.01 388.90 L705.66 388.90 L706.31 388.90 L706.96 388.90 L707.61 388.90 L708.26 388.90 L708.91 388.90 L709.56 388.90 L710.21 388.90 L710.86 388.90 L711.51 388.90 L712.16 388.90 L712.81 388.90 L713.46 388.90 L714.11 388.90 L714.76 388.90 L715.41 388.90 L716.06 388.90 L716.71 388.90 L717.36 388.90 L718.01 388.90 L718.66 388.90 L719.31 388.90 L719.96 388.90 L720.61 388.90 L721.27 388.90 L721.92 388.90 L722.57 388.90 L723.22 388.90 L723.87 388.90 L724.52 388.90 L725.17 388.90 L725.82 388.90 L726.47 388.90 L727.12 388.90 L727.77 388.90 L728.42 388.90 L729.07 388.90 L729.72 388.90 L730.37 388.90 L731.02 388.90 L731.67 388.90 L732.32 388.90 L732.97 388.90 L733.62 388.90 L734.27 388.90 L734.92 388.90 L735.57 388.90 L736.22 388.90 L736.87 388.90 L737.52 388.90 L738.17 388.90 L738.82 388.90 L739.47 388.90 L740.12 388.90 L740.77 388.90 L741.42 388.90 L742.07 388.90 L742.72 388.90 L743.37 388.90 L744.02 388.90 L744.67 388.90 L745.32 388.90 L745.97 388.90 L746.62 388.90 L747.28 388.90 L747.93 388.90 L748.58 388.90 L749.23 388.90 L749.88 388.90 L750.53 388.90 L751.18 388.90 L751.83 388.90 L752.48 388.90 L753.13 388.90 L753.78 388.90 L754.43 388.90 L755.08 388.90 L755.73 388.90 L756.38 388.90 L757.03 388.90 L757.68 388.90 L758.33 388.90 L758.98 388.90 L759.63 388.90 L760.28 388.90 L760.93 388.90 L761.58 388.90 L762.23 388.90 L762.88 388.90 L763.53 388.90 L764.18 388.90 L764.83 388.90 L765.48 388.90 L766.13 388.90 L766.78 388.90 L767.43 388.90 L768.08 388.90 L768.73 388.91 L769.38 388.91 L770.03 388.91 L770.68 388.91 L771.33 388.91 L771.98 388.91 L772.63 388.91 L773.28 388.91 L773.94 388.91 L774.59 388.91 L775.24 388.91 L775.89 388.91 L776.54 388.91 L777.19 388.91 L777.84 388.91 L778.49 388.91 L779.14 388.91 L779.79 388.91 L780.44 388.91 L781.09 388.91 L781.74 388.91 L782.39 388.90 L783.04 388.90 L783.69 388.90 L784.34 388.90 L784.99 388.90 L785.64 388.90 L786.29 388.90 L786.94 388.90 L787.59 388.90 L788.24 388.90 L788.89 388.90 L789.54 388.90 L790.19 388.90 L790.84 388.90 L791.49 388.90 L792.14 388.90 L792.79 388.90 L793.44 388.90 L794.09 388.90 L794.74 388.90 L795.39 388.90 L796.04 388.90 L796.69 388.90 L797.34 388.90 L797.99 388.90 L798.64 388.90 L799.29 388.90 L799.94 388.90 L800.60 388.90 L801.25 388.90 L801.90 388.90 L802.55 388.90 L803.20 388.90 L803.85 388.90 L804.50 388.90 L805.15 388.90 L805.80 388.90 L806.45 388.90 L807.10 388.90 L807.75 388.90 L808.40 388.90 L809.05 388.90 L809.70 388.90 L810.35 388.90 L811.00 388.90 L811.65 388.90 L812.30 388.90 L812.95 388.90 L813.60 388.90 L816.60 388.90"/>
</g>
<g font-size="33.0">
<text x="459.8" y="30.2" text-anchor="middle">Bunch Length</text>
<text x="459.4" y="559" text-anchor="middle">time [h]</text>
<g font-size="33.3"><text transform="translate(105.90 515.30) rotate(0.05) scale(1.012 1.006)" text-anchor="middle">0</text><text transform="translate(247.44 515.30) rotate(0.05) scale(1.012 1.006)" text-anchor="middle">2</text><text transform="translate(388.98 515.30) rotate(0.05) scale(1.012 1.006)" text-anchor="middle">4</text><text transform="translate(530.52 515.30) rotate(0.05) scale(1.012 1.006)" text-anchor="middle">6</text><text transform="translate(672.06 515.30) rotate(0.05) scale(1.012 1.006)" text-anchor="middle">8</text><text transform="translate(813.60 515.30) rotate(0.05) scale(1.012 1.006)" text-anchor="middle">10</text>
<text transform="translate(103.1 493.25) rotate(0.05) scale(1.012 1.006)" text-anchor="end">0.00</text><text transform="translate(103.1 383.89) rotate(0.05) scale(1.012 1.006)" text-anchor="end">0.02</text><text transform="translate(103.1 274.53) rotate(0.05) scale(1.012 1.006)" text-anchor="end">0.04</text><text transform="translate(103.1 165.17) rotate(0.05) scale(1.012 1.006)" text-anchor="end">0.06</text><text transform="translate(103.1 55.81) rotate(0.05) scale(1.012 1.006)" text-anchor="end">0.08</text></g>
<g transform="translate(30.6 264.2) rotate(-90)">
<text transform="translate(-43.0 0) scale(1.2 0.86)" font-size="37" font-style="italic" stroke="#fff" stroke-width="0.5">σ</text>
<text transform="translate(-20.9 4.8) scale(1.25 1.0)" font-size="21.5" font-style="italic" stroke="#fff" stroke-width="0.3">s</text>
<text x="-2.1" y="0">[m]</text>
</g>
</g>
<rect x="485.1" y="57.2" width="303.3" height="165.6" fill="#fff" stroke="#a6a6a6" stroke-width="1.8"/>
<g fill="none" stroke-width="5.0">
<path stroke="#ff0000" d="M494 79.5 H548"/>
<path stroke="#ff0000" stroke-dasharray="20.9 10.25" d="M494 117.7 H548"/>
<path stroke="#000" d="M494 156.1 H548"/>
<path stroke="#000" stroke-dasharray="20.9 10.25" d="M494 194.3 H548"/>
</g>
<g font-size="31.0">
<text x="556.6" y="90.3">Pb:</text>
<text transform="translate(604.9 90.3) scale(1.27 1)" font-style="italic" stroke="#fff" stroke-width="0.42">α</text>
<text transform="translate(624.0 94.9) scale(1.04 1)" font-size="22">ϵ</text>
<text transform="translate(642.2 93.6) scale(1.045 1)">=</text>
<text x="669.2" y="90.3">const.</text>
<text x="556.8" y="128.4">Pb:</text><text x="605.8" y="128.4">Num.</text><text x="684.0" y="128.4" textLength="64.3" lengthAdjust="spacingAndGlyphs">ODE</text>
<text x="557.0" y="166.6">p:</text>
<text transform="translate(587.6 166.6) scale(1.27 1)" font-style="italic" stroke="#fff" stroke-width="0.42">α</text>
<text transform="translate(607.0 171.2) scale(1.04 1)" font-size="22">ϵ</text>
<text x="617.1" y="166.6">,</text>
<text x="632.5" y="166.6">N</text>
<text transform="translate(655.1 171.2) scale(1.06 1)" font-size="23.2">b</text>
<text transform="translate(675.6 169.8) scale(1.045 1)">=</text>
<text x="702.1" y="166.6">const.</text>
<text x="556.5" y="204.7">p:</text><text x="589.2" y="204.7">Num.</text><text x="667.2" y="204.7" textLength="64.3" lengthAdjust="spacingAndGlyphs">ODE</text>
</g>
</svg>
</body></html>
